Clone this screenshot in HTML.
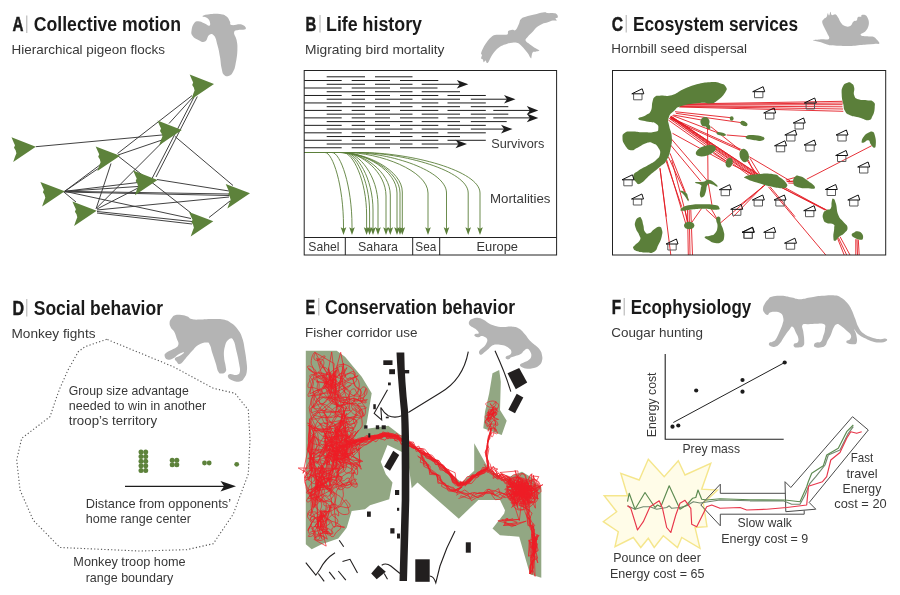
<!DOCTYPE html>
<html><head><meta charset="utf-8"><title>Animal tracking figure</title>
<style>
html,body{margin:0;padding:0;background:#fff;}
svg{display:block;will-change:transform;font-family:"Liberation Sans",Arial,sans-serif;}
</style></head><body>
<svg width="900" height="595" viewBox="0 0 900 595">
<rect width="900" height="595" fill="#ffffff"/>
<text x="12.5" y="31" font-size="19.5" textLength="11" lengthAdjust="spacingAndGlyphs" font-weight="bold" fill="#1a1a1a" stroke="#1a1a1a" stroke-width="0.45">A</text>
<line x1="26.8" y1="15.5" x2="26.8" y2="33" stroke="#999" stroke-width="0.8"/>
<text x="33.75" y="31" font-size="19.5" textLength="147.2" lengthAdjust="spacingAndGlyphs" font-weight="bold" fill="#1a1a1a">Collective motion</text>
<text x="11.5" y="54" font-size="13.3" textLength="153.5" lengthAdjust="spacingAndGlyphs" fill="#383838">Hierarchical pigeon flocks</text>
<text x="305.5" y="30.5" font-size="19.5" textLength="10.8" lengthAdjust="spacingAndGlyphs" font-weight="bold" fill="#1a1a1a" stroke="#1a1a1a" stroke-width="0.45">B</text>
<line x1="320" y1="15.0" x2="320" y2="32.5" stroke="#999" stroke-width="0.8"/>
<text x="326" y="30.5" font-size="19.5" textLength="96" lengthAdjust="spacingAndGlyphs" font-weight="bold" fill="#1a1a1a">Life history</text>
<text x="305" y="53.7" font-size="13.3" textLength="139.5" lengthAdjust="spacingAndGlyphs" fill="#383838">Migrating bird mortality</text>
<text x="611.75" y="30.5" font-size="19.5" textLength="11.3" lengthAdjust="spacingAndGlyphs" font-weight="bold" fill="#1a1a1a" stroke="#1a1a1a" stroke-width="0.45">C</text>
<line x1="626.2" y1="15.0" x2="626.2" y2="32.5" stroke="#999" stroke-width="0.8"/>
<text x="633" y="30.5" font-size="19.5" textLength="165" lengthAdjust="spacingAndGlyphs" font-weight="bold" fill="#1a1a1a">Ecosystem services</text>
<text x="611.25" y="52.7" font-size="13.3" textLength="135.8" lengthAdjust="spacingAndGlyphs" fill="#383838">Hornbill seed dispersal</text>
<text x="12.5" y="314.5" font-size="19.5" textLength="11.6" lengthAdjust="spacingAndGlyphs" font-weight="bold" fill="#1a1a1a" stroke="#1a1a1a" stroke-width="0.45">D</text>
<line x1="26.8" y1="299.0" x2="26.8" y2="316.5" stroke="#999" stroke-width="0.8"/>
<text x="33.75" y="314.5" font-size="19.5" textLength="129.2" lengthAdjust="spacingAndGlyphs" font-weight="bold" fill="#1a1a1a">Social behavior</text>
<text x="11.5" y="337.5" font-size="13.3" textLength="84.0" lengthAdjust="spacingAndGlyphs" fill="#383838">Monkey fights</text>
<text x="305.5" y="313.5" font-size="19.5" textLength="9.6" lengthAdjust="spacingAndGlyphs" font-weight="bold" fill="#1a1a1a" stroke="#1a1a1a" stroke-width="0.45">E</text>
<line x1="318.8" y1="298.0" x2="318.8" y2="315.5" stroke="#999" stroke-width="0.8"/>
<text x="325" y="313.5" font-size="19.5" textLength="190" lengthAdjust="spacingAndGlyphs" font-weight="bold" fill="#1a1a1a">Conservation behavior</text>
<text x="305" y="337" font-size="13.3" textLength="112.5" lengthAdjust="spacingAndGlyphs" fill="#383838">Fisher corridor use</text>
<text x="611.75" y="313.5" font-size="19.5" textLength="9.4" lengthAdjust="spacingAndGlyphs" font-weight="bold" fill="#1a1a1a" stroke="#1a1a1a" stroke-width="0.45">F</text>
<line x1="624.2" y1="298.0" x2="624.2" y2="315.5" stroke="#999" stroke-width="0.8"/>
<text x="630.75" y="313.5" font-size="19.5" textLength="120.5" lengthAdjust="spacingAndGlyphs" font-weight="bold" fill="#1a1a1a">Ecophysiology</text>
<text x="611.25" y="336.5" font-size="13.3" textLength="91.8" lengthAdjust="spacingAndGlyphs" fill="#383838">Cougar hunting</text>
<g stroke="#383838" stroke-width="0.95" fill="none">
<line x1="35.8" y1="146.7" x2="162" y2="135"/>
<line x1="64.7" y1="191.3" x2="100.5" y2="164.5"/>
<line x1="64.7" y1="191.3" x2="99" y2="168"/>
<line x1="117.5" y1="153.5" x2="192" y2="95.6"/>
<line x1="169" y1="123.5" x2="193.5" y2="96.5"/>
<line x1="118" y1="155" x2="162" y2="140"/>
<line x1="64.7" y1="191.3" x2="138" y2="182.5"/>
<line x1="64.7" y1="191.3" x2="138" y2="186.5"/>
<line x1="64.7" y1="191.3" x2="229" y2="194"/>
<line x1="64.7" y1="192" x2="229" y2="195.5"/>
<line x1="64.7" y1="191.3" x2="191" y2="218.5"/>
<line x1="63" y1="191.3" x2="76" y2="202"/>
<line x1="96" y1="209" x2="111" y2="163.5"/>
<line x1="96.7" y1="208" x2="162" y2="142.5"/>
<line x1="97" y1="209" x2="138" y2="188"/>
<line x1="97" y1="210" x2="229" y2="197"/>
<line x1="97" y1="211.5" x2="192" y2="221.5"/>
<line x1="97" y1="213" x2="192" y2="224"/>
<line x1="118" y1="156" x2="191" y2="213"/>
<line x1="157" y1="179.5" x2="229" y2="191"/>
<line x1="194.3" y1="96.5" x2="152.3" y2="178"/>
<line x1="197.3" y1="96.5" x2="156" y2="177"/>
<line x1="175" y1="136.5" x2="233" y2="185.5"/>
<line x1="209" y1="217.5" x2="230" y2="201"/>
</g>
<g fill="#5d823b">
<path d="M0,0 L-24.3,-9.4 L-22,-4 L-20.8,-1.5 L-21.8,1 L-20.2,3.5 L-19.4,6.5 L-20.8,10 L-22.6,15.2 Z" transform="translate(214 84)"/>
<path d="M0,0 L-24.3,-9.4 L-22,-4 L-20.8,-1.5 L-21.8,1 L-20.2,3.5 L-19.4,6.5 L-20.8,10 L-22.6,15.2 Z" transform="translate(181.8 130)"/>
<path d="M0,0 L-24.3,-9.4 L-22,-4 L-20.8,-1.5 L-21.8,1 L-20.2,3.5 L-19.4,6.5 L-20.8,10 L-22.6,15.2 Z" transform="translate(35.8 146.7)"/>
<path d="M0,0 L-24.3,-9.4 L-22,-4 L-20.8,-1.5 L-21.8,1 L-20.2,3.5 L-19.4,6.5 L-20.8,10 L-22.6,15.2 Z" transform="translate(120 155.8)"/>
<path d="M0,0 L-24.3,-9.4 L-22,-4 L-20.8,-1.5 L-21.8,1 L-20.2,3.5 L-19.4,6.5 L-20.8,10 L-22.6,15.2 Z" transform="translate(157.5 180)"/>
<path d="M0,0 L-24.3,-9.4 L-22,-4 L-20.8,-1.5 L-21.8,1 L-20.2,3.5 L-19.4,6.5 L-20.8,10 L-22.6,15.2 Z" transform="translate(64.7 191.3)"/>
<path d="M0,0 L-24.3,-9.4 L-22,-4 L-20.8,-1.5 L-21.8,1 L-20.2,3.5 L-19.4,6.5 L-20.8,10 L-22.6,15.2 Z" transform="translate(96.7 210.8)"/>
<path d="M0,0 L-24.3,-9.4 L-22,-4 L-20.8,-1.5 L-21.8,1 L-20.2,3.5 L-19.4,6.5 L-20.8,10 L-22.6,15.2 Z" transform="translate(250 193.3)"/>
<path d="M0,0 L-24.3,-9.4 L-22,-4 L-20.8,-1.5 L-21.8,1 L-20.2,3.5 L-19.4,6.5 L-20.8,10 L-22.6,15.2 Z" transform="translate(213.3 221.3)"/>
</g>
<g stroke="#1c1c1c" stroke-width="1" fill="none">
<line x1="326.7" y1="76.8" x2="365" y2="76.8"/>
<line x1="375" y1="76.8" x2="412.5" y2="76.8"/>
<line x1="304.2" y1="80.53" x2="341.7" y2="80.53"/>
<line x1="351.7" y1="80.53" x2="390" y2="80.53"/>
<line x1="400" y1="80.53" x2="438.3" y2="80.53"/>
<line x1="326.7" y1="84.27" x2="365" y2="84.27"/>
<line x1="375" y1="84.27" x2="412.5" y2="84.27"/>
<line x1="421.7" y1="84.27" x2="464.3" y2="84.27"/>
<line x1="304.2" y1="88.0" x2="341.7" y2="88.0"/>
<line x1="351.7" y1="88.0" x2="390" y2="88.0"/>
<line x1="400" y1="88.0" x2="437.5" y2="88.0"/>
<line x1="326.7" y1="91.74" x2="365" y2="91.74"/>
<line x1="375" y1="91.74" x2="412.5" y2="91.74"/>
<line x1="421.7" y1="91.74" x2="460" y2="91.74"/>
<line x1="304.2" y1="95.47" x2="341.7" y2="95.47"/>
<line x1="351.7" y1="95.47" x2="390" y2="95.47"/>
<line x1="400" y1="95.47" x2="438.3" y2="95.47"/>
<line x1="447.5" y1="95.47" x2="485.8" y2="95.47"/>
<line x1="326.7" y1="99.21" x2="365" y2="99.21"/>
<line x1="375" y1="99.21" x2="412.5" y2="99.21"/>
<line x1="421.7" y1="99.21" x2="460" y2="99.21"/>
<line x1="470.8" y1="99.21" x2="511.5" y2="99.21"/>
<line x1="304.2" y1="102.94" x2="341.7" y2="102.94"/>
<line x1="351.7" y1="102.94" x2="390" y2="102.94"/>
<line x1="400" y1="102.94" x2="438.3" y2="102.94"/>
<line x1="447.5" y1="102.94" x2="485.8" y2="102.94"/>
<line x1="326.7" y1="106.68" x2="365" y2="106.68"/>
<line x1="375" y1="106.68" x2="412.5" y2="106.68"/>
<line x1="421.7" y1="106.68" x2="460" y2="106.68"/>
<line x1="470.8" y1="106.68" x2="508.3" y2="106.68"/>
<line x1="304.2" y1="110.41" x2="341.7" y2="110.41"/>
<line x1="351.7" y1="110.41" x2="390" y2="110.41"/>
<line x1="400" y1="110.41" x2="438.3" y2="110.41"/>
<line x1="447.5" y1="110.41" x2="485.8" y2="110.41"/>
<line x1="493.3" y1="110.41" x2="534.3" y2="110.41"/>
<line x1="326.7" y1="114.15" x2="365" y2="114.15"/>
<line x1="375" y1="114.15" x2="412.5" y2="114.15"/>
<line x1="421.7" y1="114.15" x2="460" y2="114.15"/>
<line x1="470.8" y1="114.15" x2="508.3" y2="114.15"/>
<line x1="304.2" y1="117.88" x2="341.7" y2="117.88"/>
<line x1="351.7" y1="117.88" x2="390" y2="117.88"/>
<line x1="400" y1="117.88" x2="438.3" y2="117.88"/>
<line x1="447.5" y1="117.88" x2="485.8" y2="117.88"/>
<line x1="493.3" y1="117.88" x2="534.3" y2="117.88"/>
<line x1="326.7" y1="121.62" x2="365" y2="121.62"/>
<line x1="375" y1="121.62" x2="412.5" y2="121.62"/>
<line x1="421.7" y1="121.62" x2="460" y2="121.62"/>
<line x1="470.8" y1="121.62" x2="506.7" y2="121.62"/>
<line x1="304.2" y1="125.35" x2="341.7" y2="125.35"/>
<line x1="351.7" y1="125.35" x2="390" y2="125.35"/>
<line x1="400" y1="125.35" x2="438.3" y2="125.35"/>
<line x1="447.5" y1="125.35" x2="485.8" y2="125.35"/>
<line x1="326.7" y1="129.09" x2="365" y2="129.09"/>
<line x1="375" y1="129.09" x2="412.5" y2="129.09"/>
<line x1="421.7" y1="129.09" x2="460" y2="129.09"/>
<line x1="470.8" y1="129.09" x2="508.5" y2="129.09"/>
<line x1="304.2" y1="132.82" x2="341.7" y2="132.82"/>
<line x1="351.7" y1="132.82" x2="390" y2="132.82"/>
<line x1="400" y1="132.82" x2="438.3" y2="132.82"/>
<line x1="447.5" y1="132.82" x2="485.8" y2="132.82"/>
<line x1="326.7" y1="136.56" x2="365" y2="136.56"/>
<line x1="375" y1="136.56" x2="412.5" y2="136.56"/>
<line x1="421.7" y1="136.56" x2="460" y2="136.56"/>
<line x1="304.2" y1="140.29" x2="341.7" y2="140.29"/>
<line x1="351.7" y1="140.29" x2="390" y2="140.29"/>
<line x1="400" y1="140.29" x2="438.3" y2="140.29"/>
<line x1="447.5" y1="140.29" x2="485.8" y2="140.29"/>
<line x1="326.7" y1="144.03" x2="365" y2="144.03"/>
<line x1="375" y1="144.03" x2="412.5" y2="144.03"/>
<line x1="421.7" y1="144.03" x2="463" y2="144.03"/>
<line x1="304.2" y1="147.76" x2="341.7" y2="147.76"/>
<line x1="351.7" y1="147.76" x2="390" y2="147.76"/>
<line x1="400" y1="147.76" x2="438.3" y2="147.76"/>
</g>
<g fill="#1c1c1c">
<path d="M468.3,84.27 l-11.5,-4.3 l3,4.3 l-3,4.3 z"/>
<path d="M515.5,99.21 l-11.5,-4.3 l3,4.3 l-3,4.3 z"/>
<path d="M538.3,110.41 l-11.5,-4.3 l3,4.3 l-3,4.3 z"/>
<path d="M538.3,117.88 l-11.5,-4.3 l3,4.3 l-3,4.3 z"/>
<path d="M512.5,129.09 l-11.5,-4.3 l3,4.3 l-3,4.3 z"/>
<path d="M467,144.03 l-11.5,-4.3 l3,4.3 l-3,4.3 z"/>
</g>
<g stroke="#5b7f3a" stroke-width="0.9" fill="none">
<path d="M304.2,152.5 H325 C332.8,152.5 343.5,185.6 343.5,226 V229"/>
<path d="M304.2,152.5 H332 C340.4,152.5 352,185.6 352,226 V229"/>
<path d="M304.2,152.5 H343 C352.9,152.5 366.6,180.6 366.6,215 V229"/>
<path d="M304.2,152.5 H344 C354.8,152.5 369.6,179.3 369.6,212 V229"/>
<path d="M304.2,152.5 H345 C356.8,152.5 373,178.4 373,210 V229"/>
<path d="M304.2,152.5 H345 C358.9,152.5 378,176.1 378,205 V229"/>
<path d="M304.2,152.5 H343 C361.1,152.5 386,172.1 386,196 V229"/>
<path d="M304.2,152.5 H342 C362.3,152.5 390.3,171.6 390.3,195 V229"/>
<path d="M304.2,152.5 H341 C364.5,152.5 397,170.7 397,193 V229"/>
<path d="M304.2,152.5 H340 C365.2,152.5 400,170.7 400,193 V229"/>
<path d="M304.2,152.5 H340 C366.2,152.5 402.3,170.3 402.3,192 V229"/>
<path d="M304.2,152.5 H345 C379.9,152.5 428,170.7 428,193 V229"/>
<path d="M304.2,152.5 H350 C390.5,152.5 446.5,170.7 446.5,193 V229"/>
<path d="M304.2,152.5 H356 C403.1,152.5 468.2,170.7 468.2,193 V229"/>
<path d="M304.2,152.5 H360 C410.4,152.5 480,170.7 480,193 V229"/>
</g>
<g fill="#5b7f3a">
<path d="M343.5,235 l-2.8,-7.8 l2.8,1.6 l2.8,-1.6 z"/>
<path d="M352,235 l-2.8,-7.8 l2.8,1.6 l2.8,-1.6 z"/>
<path d="M366.6,235 l-2.8,-7.8 l2.8,1.6 l2.8,-1.6 z"/>
<path d="M369.6,235 l-2.8,-7.8 l2.8,1.6 l2.8,-1.6 z"/>
<path d="M373,235 l-2.8,-7.8 l2.8,1.6 l2.8,-1.6 z"/>
<path d="M378,235 l-2.8,-7.8 l2.8,1.6 l2.8,-1.6 z"/>
<path d="M386,235 l-2.8,-7.8 l2.8,1.6 l2.8,-1.6 z"/>
<path d="M390.3,235 l-2.8,-7.8 l2.8,1.6 l2.8,-1.6 z"/>
<path d="M397,235 l-2.8,-7.8 l2.8,1.6 l2.8,-1.6 z"/>
<path d="M400,235 l-2.8,-7.8 l2.8,1.6 l2.8,-1.6 z"/>
<path d="M402.3,235 l-2.8,-7.8 l2.8,1.6 l2.8,-1.6 z"/>
<path d="M428,235 l-2.8,-7.8 l2.8,1.6 l2.8,-1.6 z"/>
<path d="M446.5,235 l-2.8,-7.8 l2.8,1.6 l2.8,-1.6 z"/>
<path d="M468.2,235 l-2.8,-7.8 l2.8,1.6 l2.8,-1.6 z"/>
<path d="M480,235 l-2.8,-7.8 l2.8,1.6 l2.8,-1.6 z"/>
</g>
<rect x="304.2" y="70.5" width="252.4" height="184.5" fill="none" stroke="#222" stroke-width="1"/>
<path d="M304.2,237.5 H556.6 M345.3,237.5 V255 M412.7,237.5 V255 M439.7,237.5 V255" stroke="#222" stroke-width="1" fill="none"/>
<text x="308.3" y="250.8" font-size="12.8" textLength="31.2" lengthAdjust="spacingAndGlyphs" fill="#383838">Sahel</text>
<text x="358" y="250.8" font-size="12.8" textLength="40" lengthAdjust="spacingAndGlyphs" fill="#383838">Sahara</text>
<text x="415.3" y="250.8" font-size="12.8" textLength="21" lengthAdjust="spacingAndGlyphs" fill="#383838">Sea</text>
<text x="476.5" y="250.8" font-size="12.8" textLength="41.5" lengthAdjust="spacingAndGlyphs" fill="#383838">Europe</text>
<text x="491.3" y="147.7" font-size="13.3" textLength="53" lengthAdjust="spacingAndGlyphs" fill="#383838">Survivors</text>
<text x="490" y="203" font-size="13.3" textLength="60.5" lengthAdjust="spacingAndGlyphs" fill="#383838">Mortalities</text>
<g>
<g stroke="#e31b23" stroke-width="0.9" fill="none">
<line x1="681.7" y1="104.0" x2="842.5" y2="101.3"/>
<line x1="680.8" y1="105.0" x2="842.5" y2="104.7"/>
<line x1="680.0" y1="106.0" x2="842.5" y2="106.8"/>
<line x1="679.2" y1="107.0" x2="843.3" y2="111.3"/>
<line x1="681.7" y1="104.5" x2="843.0" y2="103.0"/>
<line x1="680.0" y1="106.5" x2="843.0" y2="109.0"/>
<line x1="675.0" y1="111.7" x2="731.7" y2="117.8"/>
<line x1="675.8" y1="113.3" x2="742.5" y2="122.8"/>
<line x1="673.3" y1="115.0" x2="701.7" y2="120.0"/>
<line x1="672.5" y1="115.5" x2="718.3" y2="133.0"/>
<line x1="726.7" y1="135.0" x2="747.5" y2="136.7"/>
<line x1="670.8" y1="116.3" x2="756.7" y2="174.7"/>
<line x1="671.2" y1="116.2" x2="758.7" y2="175.0"/>
<line x1="670.5" y1="116.7" x2="755.0" y2="174.8"/>
<line x1="670.3" y1="117.2" x2="753.3" y2="175.2"/>
<line x1="671.0" y1="116.5" x2="760.3" y2="175.5"/>
<line x1="670.2" y1="117.5" x2="752.0" y2="175.5"/>
<line x1="669.3" y1="118.3" x2="740.0" y2="150.3"/>
<line x1="670.0" y1="117.3" x2="741.7" y2="149.7"/>
<line x1="668.3" y1="120.0" x2="725.8" y2="160.8"/>
<line x1="672.5" y1="133.3" x2="726.7" y2="163.0"/>
<line x1="670.8" y1="138.3" x2="706.7" y2="180.0"/>
<line x1="669.2" y1="143.3" x2="700.8" y2="181.3"/>
<line x1="668.3" y1="156.7" x2="688.3" y2="200.0"/>
<line x1="665.8" y1="160.0" x2="681.7" y2="206.7"/>
<line x1="660.0" y1="168.3" x2="666.3" y2="216.7"/>
<line x1="670.0" y1="153.3" x2="685.3" y2="192.0"/>
<line x1="707.5" y1="126.7" x2="708.0" y2="180.0"/>
<line x1="708.3" y1="183.3" x2="712.0" y2="205.3"/>
<line x1="710.8" y1="126.7" x2="740.0" y2="150.0"/>
<line x1="713.3" y1="153.3" x2="726.7" y2="161.7"/>
<line x1="732.5" y1="165.0" x2="755.0" y2="175.3"/>
<line x1="748.3" y1="160.0" x2="755.0" y2="174.7"/>
<line x1="750.0" y1="158.3" x2="760.3" y2="175.3"/>
<line x1="749.2" y1="156.7" x2="790.0" y2="180.8"/>
<line x1="746.7" y1="160.0" x2="757.5" y2="175.0"/>
<line x1="763.3" y1="185.8" x2="733.3" y2="216.7"/>
<line x1="770.0" y1="186.7" x2="795.0" y2="216.7"/>
<line x1="669.7" y1="118.7" x2="750.0" y2="176.0"/>
<line x1="660.0" y1="168.3" x2="670.8" y2="255.0"/>
<line x1="666.7" y1="160.0" x2="686.7" y2="226.7"/>
<line x1="671.7" y1="160.0" x2="688.3" y2="223.3"/>
<line x1="687.5" y1="210.0" x2="688.3" y2="255.0"/>
<line x1="689.2" y1="210.0" x2="690.0" y2="255.0"/>
<line x1="690.8" y1="210.0" x2="692.5" y2="255.0"/>
<line x1="701.7" y1="208.3" x2="691.7" y2="222.5"/>
<line x1="705.8" y1="209.2" x2="717.5" y2="220.0"/>
<line x1="685.0" y1="210.0" x2="687.5" y2="223.3"/>
<line x1="710.0" y1="206.7" x2="716.7" y2="218.3"/>
<line x1="720.0" y1="223.3" x2="765.0" y2="185.0"/>
<line x1="756.7" y1="175.0" x2="826.7" y2="210.0"/>
<line x1="763.3" y1="175.8" x2="827.5" y2="210.8"/>
<line x1="773.3" y1="183.3" x2="825.0" y2="210.0"/>
<line x1="768.3" y1="186.7" x2="825.8" y2="255.0"/>
<line x1="740.0" y1="205.0" x2="765.0" y2="185.0"/>
<line x1="786.7" y1="181.7" x2="795.0" y2="180.8"/>
<line x1="785.8" y1="180.0" x2="795.0" y2="177.5"/>
<line x1="788.3" y1="183.0" x2="795.0" y2="183.3"/>
<line x1="786.7" y1="181.0" x2="795.0" y2="182.0"/>
<line x1="806.7" y1="179.2" x2="871.7" y2="145.7"/>
<line x1="838.3" y1="237.5" x2="846.7" y2="255.0"/>
<line x1="840.0" y1="236.7" x2="850.0" y2="255.0"/>
<line x1="837.5" y1="238.3" x2="844.2" y2="255.0"/>
<line x1="855.8" y1="239.2" x2="855.8" y2="255.0"/>
<line x1="858.3" y1="239.7" x2="859.2" y2="255.0"/>
<line x1="857.0" y1="239.3" x2="857.5" y2="255.0"/>
</g>
<g fill="#5b7f3a">
<path d="M710.0,82.2 C716.2,81.9 715.8,81.9 720.0,83.2 C724.2,84.4 724.5,84.3 725.8,86.8 C727.2,89.4 727.4,88.9 725.0,92.7 C722.6,96.4 720.7,98.1 716.7,101.0 C712.7,103.9 714.4,103.0 710.0,103.5 C705.6,104.0 707.6,102.3 700.0,103.0 C692.4,103.7 688.6,104.0 681.7,106.0 C674.8,108.0 677.6,107.6 674.2,110.7 C670.7,113.8 670.0,113.6 668.7,117.7 C667.3,121.8 668.4,121.1 669.2,126.0 C670.0,130.9 671.2,130.2 671.7,136.0 C672.1,141.8 672.2,141.3 670.8,147.7 C669.5,154.1 669.6,154.9 666.7,160.0 C663.8,165.1 664.4,162.7 660.0,166.7 C655.6,170.7 655.1,170.6 650.0,175.0 C644.9,179.4 644.6,181.5 640.8,183.3 C637.1,185.2 637.8,183.8 635.8,181.8 C633.8,179.8 632.7,178.8 633.3,175.8 C634.0,172.9 634.3,173.7 638.3,170.8 C642.3,167.9 643.7,167.8 648.3,165.0 C653.0,162.2 652.7,163.0 655.8,160.2 C658.9,157.3 659.3,157.7 660.0,154.3 C660.7,151.0 660.1,150.6 658.3,147.7 C656.6,144.8 656.4,144.7 653.3,143.5 C650.2,142.3 650.9,141.9 646.7,143.0 C642.4,144.1 641.7,145.8 637.5,147.7 C633.3,149.6 634.2,150.8 630.8,150.2 C627.5,149.5 627.2,148.5 625.0,145.2 C622.8,141.8 622.5,141.0 622.5,137.7 C622.5,134.3 622.6,134.3 625.0,132.7 C627.4,131.0 626.8,131.6 631.7,131.5 C636.6,131.4 637.1,132.2 643.3,132.3 C649.6,132.4 651.0,132.9 655.0,131.8 C659.0,130.8 658.1,130.7 658.3,128.5 C658.6,126.3 658.5,125.3 655.8,123.5 C653.2,121.7 653.0,123.0 648.3,121.8 C643.7,120.6 639.0,120.8 638.3,119.0 C637.7,117.2 642.5,117.3 645.8,115.2 C649.2,113.0 649.1,114.6 650.8,111.0 C652.6,107.4 651.4,105.6 652.5,101.8 C653.6,98.1 653.0,98.5 655.0,96.8 C657.0,95.2 655.6,96.1 660.0,95.7 C664.4,95.2 665.4,96.9 671.7,95.2 C677.9,93.5 676.7,92.2 683.3,89.3 C690.0,86.4 689.6,86.2 696.7,84.3 C703.8,82.4 703.8,82.5 710.0,82.2Z"/>
<path d="M639.2,217.2 C637.5,217.8 636.2,218.7 635.3,221.7 C634.4,224.6 634.8,224.8 635.8,228.3 C636.9,231.9 638.1,231.9 639.2,235.0 C640.3,238.1 641.1,237.3 640.0,240.0 C638.9,242.7 636.8,242.8 635.0,245.0 C633.2,247.2 632.7,246.6 633.3,248.3 C634.0,250.0 634.2,250.2 637.5,251.3 C640.8,252.4 641.4,252.4 645.8,252.5 C650.3,252.6 650.8,253.7 654.2,251.7 C657.5,249.7 656.3,249.0 658.3,245.0 C660.3,241.0 660.7,240.7 661.7,236.7 C662.6,232.7 662.7,232.7 662.0,230.0 C661.3,227.3 661.3,226.9 659.2,226.7 C657.1,226.4 656.8,227.4 654.2,229.2 C651.5,230.9 651.6,232.7 649.2,233.3 C646.7,234.0 646.6,233.9 645.0,231.7 C643.4,229.4 644.2,228.3 643.3,225.0 C642.4,221.7 642.8,221.3 641.7,219.2 C640.6,217.1 640.9,216.5 639.2,217.2Z"/>
<path d="M680.0,190.8 C680.7,190.4 683.7,190.7 685.8,192.5 C688.0,194.3 687.3,195.1 688.0,197.5 C688.7,199.9 688.9,201.3 688.3,201.3 C687.8,201.3 687.2,199.4 685.8,197.5 C684.5,195.6 684.9,195.9 683.3,194.2 C681.8,192.4 679.3,191.3 680.0,190.8Z"/>
<path d="M695.0,182.5 C695.7,181.6 699.8,182.4 703.3,181.7 C706.9,180.9 705.4,179.4 708.3,179.7 C711.2,179.9 711.7,180.6 714.2,182.5 C716.6,184.4 718.2,186.2 717.5,186.7 C716.8,187.1 714.3,184.6 711.7,184.2 C709.0,183.7 709.1,183.0 707.5,185.0 C705.9,187.0 706.9,188.6 705.8,191.7 C704.7,194.8 704.9,195.6 703.3,196.7 C701.8,197.8 700.7,198.1 700.0,195.8 C699.3,193.6 700.6,191.2 700.8,188.3 C701.1,185.4 702.4,186.6 700.8,185.0 C699.3,183.4 694.3,183.4 695.0,182.5Z"/>
<path d="M680.8,209.2 C682.2,207.7 682.3,206.7 688.3,205.3 C694.3,204.0 696.2,204.3 703.3,204.2 C710.4,204.1 710.8,204.1 715.0,205.0 C719.2,205.9 718.7,206.3 719.2,207.5 C719.6,208.7 720.9,209.4 716.7,209.7 C712.4,210.0 710.4,208.7 703.3,208.7 C696.2,208.7 695.3,209.1 690.0,209.7 C684.7,210.2 685.8,211.0 683.3,210.8 C680.9,210.7 679.5,210.6 680.8,209.2Z"/>
<path d="M716.7,217.5 C717.6,216.6 718.9,215.9 720.0,217.5 C721.1,219.1 719.9,220.0 720.8,223.3 C721.7,226.7 722.4,226.4 723.3,230.0 C724.2,233.6 724.6,233.6 724.2,236.7 C723.7,239.8 724.1,240.0 721.7,241.7 C719.2,243.4 718.6,243.4 715.0,243.0 C711.4,242.6 711.1,241.6 708.3,240.0 C705.6,238.4 704.2,238.1 704.7,237.0 C705.1,235.9 707.2,236.8 710.0,235.8 C712.8,234.9 713.0,235.8 715.0,233.3 C717.0,230.9 717.1,230.0 717.5,226.7 C717.9,223.3 716.6,223.3 716.3,220.8 C716.1,218.4 715.7,218.4 716.7,217.5Z"/>
<path d="M847.5,82.7 C845.2,83.4 844.6,83.2 843.0,86.3 C841.4,89.4 841.6,89.5 841.7,94.3 C841.8,99.1 842.4,99.9 843.3,104.3 C844.2,108.8 843.2,108.1 845.0,111.0 C846.8,113.9 846.0,113.4 850.0,115.2 C854.0,116.9 855.1,116.3 860.0,117.7 C864.9,119.0 865.0,120.6 868.3,120.2 C871.7,119.7 870.8,119.3 872.5,116.0 C874.2,112.7 874.4,111.4 874.7,107.7 C874.9,103.9 875.5,103.8 873.3,101.8 C871.2,99.8 870.7,100.8 866.7,100.2 C862.7,99.5 861.7,100.7 858.3,99.3 C855.0,98.0 855.3,98.3 854.2,95.2 C853.1,92.1 854.8,90.8 854.2,87.7 C853.5,84.6 853.4,84.8 851.7,83.5 C849.9,82.2 849.8,81.9 847.5,82.7Z"/>
<path d="M872.5,131.8 C874.3,132.7 874.1,132.7 875.0,136.0 C875.9,139.3 876.1,141.2 875.8,144.3 C875.6,147.4 875.5,147.7 874.2,147.7 C872.8,147.7 872.4,146.3 870.8,144.3 C869.3,142.3 870.3,140.6 868.3,140.2 C866.3,139.7 865.1,142.4 863.3,142.7 C861.6,142.9 861.4,142.8 861.7,141.0 C861.9,139.2 862.4,138.2 864.2,136.0 C865.9,133.8 866.1,133.8 868.3,132.7 C870.6,131.6 870.7,130.9 872.5,131.8Z"/>
<path d="M746.7,136.0 C748.7,135.0 750.3,134.7 755.0,135.2 C759.7,135.6 762.8,136.1 764.2,137.7 C765.5,139.2 762.9,140.6 760.0,141.0 C757.1,141.4 756.7,139.9 753.3,139.3 C750.0,138.8 749.3,139.9 747.5,139.0 C745.7,138.1 744.7,137.0 746.7,136.0Z"/>
<path d="M745.0,176.7 C747.4,175.3 749.1,174.8 756.7,174.2 C764.2,173.5 767.1,173.3 773.3,174.2 C779.6,175.1 776.7,175.3 780.0,177.5 C783.3,179.7 784.1,180.1 785.8,182.5 C787.6,184.9 787.8,185.1 786.7,186.7 C785.6,188.2 786.1,188.4 781.7,188.3 C777.2,188.2 776.7,187.9 770.0,186.3 C763.3,184.8 762.7,184.4 756.7,182.5 C750.7,180.6 750.6,180.7 747.5,179.2 C744.4,177.6 742.6,178.0 745.0,176.7Z"/>
<path d="M795.0,176.7 C796.8,175.0 796.9,175.4 800.0,176.3 C803.1,177.2 802.7,177.0 806.7,180.0 C810.7,183.0 815.0,185.3 815.0,187.5 C815.0,189.7 811.6,188.6 806.7,188.3 C801.8,188.1 800.2,188.2 796.7,186.7 C793.1,185.1 793.8,185.2 793.3,182.5 C792.9,179.8 793.2,178.3 795.0,176.7Z"/>
<path d="M833.3,198.7 C834.4,199.1 834.5,199.0 835.8,203.3 C837.2,207.7 836.3,210.1 838.3,215.0 C840.3,219.9 840.9,218.3 843.3,221.7 C845.8,225.0 847.3,224.4 847.5,227.5 C847.7,230.6 846.4,230.9 844.2,233.3 C841.9,235.8 841.6,234.7 839.2,236.7 C836.7,238.7 836.6,240.8 835.0,240.8 C833.4,240.8 833.6,240.0 833.3,236.7 C833.1,233.3 834.2,231.7 834.2,228.3 C834.2,225.0 835.3,225.6 833.3,224.2 C831.3,222.7 829.3,224.3 826.7,223.0 C824.0,221.7 824.2,221.7 823.3,219.2 C822.4,216.6 822.4,215.8 823.3,213.3 C824.2,210.9 824.7,211.3 826.7,210.0 C828.7,208.7 829.5,210.6 830.8,208.3 C832.2,206.1 831.0,204.2 831.7,201.7 C832.3,199.1 832.2,198.2 833.3,198.7Z"/>
<path d="M857.5,231.3 C859.5,231.6 860.2,231.5 861.7,233.3 C863.1,235.2 863.4,236.6 863.0,238.3 C862.6,240.0 862.1,239.8 860.0,239.7 C857.9,239.6 857.2,239.2 855.0,238.0 C852.8,236.8 851.9,236.5 851.7,235.0 C851.4,233.5 852.6,233.5 854.2,232.5 C855.7,231.5 855.5,231.1 857.5,231.3Z"/>
<ellipse cx="705.0" cy="121.8" rx="4.6" ry="4.8" transform="rotate(0 705.0 121.8)"/>
<ellipse cx="708.0" cy="126.3" rx="2" ry="3.2" transform="rotate(-30 708.0 126.3)"/>
<ellipse cx="731.7" cy="118.5" rx="1.9" ry="2.2" transform="rotate(0 731.7 118.5)"/>
<ellipse cx="744.2" cy="123.5" rx="3.6" ry="2" transform="rotate(30 744.2 123.5)"/>
<ellipse cx="721.2" cy="134.0" rx="4.8" ry="1.6" transform="rotate(12 721.2 134.0)"/>
<ellipse cx="705.8" cy="150.7" rx="10.5" ry="5" transform="rotate(-18 705.8 150.7)"/>
<ellipse cx="744.2" cy="155.5" rx="4.6" ry="6.8" transform="rotate(-15 744.2 155.5)"/>
<ellipse cx="729.2" cy="162.7" rx="3.5" ry="5" transform="rotate(15 729.2 162.7)"/>
<ellipse cx="743.3" cy="123.5" rx="3.2" ry="2" transform="rotate(30 743.3 123.5)"/>
<ellipse cx="689.2" cy="225.5" rx="5.2" ry="3.8" transform="rotate(0 689.2 225.5)"/>
<ellipse cx="753.3" cy="137.7" rx="7" ry="2.3" transform="rotate(8 753.3 137.7)"/>
</g></g>
<path d="M633.6,93.8 V99.8 H642.0 V93.8" stroke="#5a5a5a" stroke-width="1" fill="none"/>
<path d="M631.8,93.8 L642.2,88.8 L643.8,93.8 Z" stroke="#111" stroke-width="1" fill="none"/>
<path d="M623.8,179.8 V185.8 H632.2 V179.8" stroke="#5a5a5a" stroke-width="1" fill="none"/>
<path d="M622.0,179.8 L632.4,174.8 L634.0,179.8 Z" stroke="#111" stroke-width="1" fill="none"/>
<path d="M633.3,199.0 V205.0 H641.7 V199.0" stroke="#5a5a5a" stroke-width="1" fill="none"/>
<path d="M631.5,199.0 L641.9,194.0 L643.5,199.0 Z" stroke="#111" stroke-width="1" fill="none"/>
<path d="M667.8,244.0 V250.0 H676.2 V244.0" stroke="#5a5a5a" stroke-width="1" fill="none"/>
<path d="M666.0,244.0 L676.4,239.0 L678.0,244.0 Z" stroke="#111" stroke-width="1" fill="none"/>
<path d="M721.1,189.7 V195.7 H729.5 V189.7" stroke="#5a5a5a" stroke-width="1" fill="none"/>
<path d="M719.3,189.7 L729.7,184.7 L731.3,189.7 Z" stroke="#111" stroke-width="1" fill="none"/>
<path d="M732.5,209.3 V215.3 H740.9 V209.3" stroke="#5a5a5a" stroke-width="1" fill="none"/>
<path d="M730.7,209.3 L741.1,204.3 L742.7,209.3 Z" stroke="#111" stroke-width="1" fill="none"/>
<path d="M744.1,232.3 V238.3 H752.5 V232.3" stroke="#5a5a5a" stroke-width="1" fill="none"/>
<path d="M742.3,232.3 L752.7,227.3 L754.3,232.3 Z" stroke="#111" stroke-width="1" fill="none"/>
<path d="M754.5,91.7 V97.7 H762.9 V91.7" stroke="#5a5a5a" stroke-width="1" fill="none"/>
<path d="M752.7,91.7 L763.1,86.7 L764.7,91.7 Z" stroke="#111" stroke-width="1" fill="none"/>
<path d="M765.5,113.0 V119.0 H773.9 V113.0" stroke="#5a5a5a" stroke-width="1" fill="none"/>
<path d="M763.7,113.0 L774.1,108.0 L775.7,113.0 Z" stroke="#111" stroke-width="1" fill="none"/>
<path d="M806.1,103.0 V109.0 H814.5 V103.0" stroke="#5a5a5a" stroke-width="1" fill="none"/>
<path d="M804.3,103.0 L814.7,98.0 L816.3,103.0 Z" stroke="#111" stroke-width="1" fill="none"/>
<path d="M795.0,123.0 V129.0 H803.4 V123.0" stroke="#5a5a5a" stroke-width="1" fill="none"/>
<path d="M793.2,123.0 L803.6,118.0 L805.2,123.0 Z" stroke="#111" stroke-width="1" fill="none"/>
<path d="M786.6,135.0 V141.0 H795.0 V135.0" stroke="#5a5a5a" stroke-width="1" fill="none"/>
<path d="M784.8,135.0 L795.2,130.0 L796.8,135.0 Z" stroke="#111" stroke-width="1" fill="none"/>
<path d="M776.3,145.8 V151.8 H784.7 V145.8" stroke="#5a5a5a" stroke-width="1" fill="none"/>
<path d="M774.5,145.8 L784.9,140.8 L786.5,145.8 Z" stroke="#111" stroke-width="1" fill="none"/>
<path d="M805.8,145.0 V151.0 H814.2 V145.0" stroke="#5a5a5a" stroke-width="1" fill="none"/>
<path d="M804.0,145.0 L814.4,140.0 L816.0,145.0 Z" stroke="#111" stroke-width="1" fill="none"/>
<path d="M837.8,135.0 V141.0 H846.2 V135.0" stroke="#5a5a5a" stroke-width="1" fill="none"/>
<path d="M836.0,135.0 L846.4,130.0 L848.0,135.0 Z" stroke="#111" stroke-width="1" fill="none"/>
<path d="M837.5,155.5 V161.5 H845.9 V155.5" stroke="#5a5a5a" stroke-width="1" fill="none"/>
<path d="M835.7,155.5 L846.1,150.5 L847.7,155.5 Z" stroke="#111" stroke-width="1" fill="none"/>
<path d="M859.5,167.0 V173.0 H867.9 V167.0" stroke="#5a5a5a" stroke-width="1" fill="none"/>
<path d="M857.7,167.0 L868.1,162.0 L869.7,167.0 Z" stroke="#111" stroke-width="1" fill="none"/>
<path d="M827.1,189.5 V195.5 H835.5 V189.5" stroke="#5a5a5a" stroke-width="1" fill="none"/>
<path d="M825.3,189.5 L835.7,184.5 L837.3,189.5 Z" stroke="#111" stroke-width="1" fill="none"/>
<path d="M849.6,200.0 V206.0 H858.0 V200.0" stroke="#5a5a5a" stroke-width="1" fill="none"/>
<path d="M847.8,200.0 L858.2,195.0 L859.8,200.0 Z" stroke="#111" stroke-width="1" fill="none"/>
<path d="M754.1,200.0 V206.0 H762.5 V200.0" stroke="#5a5a5a" stroke-width="1" fill="none"/>
<path d="M752.3,200.0 L762.7,195.0 L764.3,200.0 Z" stroke="#111" stroke-width="1" fill="none"/>
<path d="M775.8,200.0 V206.0 H784.2 V200.0" stroke="#5a5a5a" stroke-width="1" fill="none"/>
<path d="M774.0,200.0 L784.4,195.0 L786.0,200.0 Z" stroke="#111" stroke-width="1" fill="none"/>
<path d="M805.5,210.7 V216.7 H813.9 V210.7" stroke="#5a5a5a" stroke-width="1" fill="none"/>
<path d="M803.7,210.7 L814.1,205.7 L815.7,210.7 Z" stroke="#111" stroke-width="1" fill="none"/>
<path d="M743.8,232.3 V238.3 H752.2 V232.3" stroke="#5a5a5a" stroke-width="1" fill="none"/>
<path d="M742.0,232.3 L752.4,227.3 L754.0,232.3 Z" stroke="#111" stroke-width="1" fill="none"/>
<path d="M765.5,232.3 V238.3 H773.9 V232.3" stroke="#5a5a5a" stroke-width="1" fill="none"/>
<path d="M763.7,232.3 L774.1,227.3 L775.7,232.3 Z" stroke="#111" stroke-width="1" fill="none"/>
<path d="M786.3,243.2 V249.2 H794.7 V243.2" stroke="#5a5a5a" stroke-width="1" fill="none"/>
<path d="M784.5,243.2 L794.9,238.2 L796.5,243.2 Z" stroke="#111" stroke-width="1" fill="none"/>
<rect x="612.5" y="70.5" width="273.2" height="184.5" fill="none" stroke="#222" stroke-width="1"/>
<g fill="#b4b4b4"><path d="M202.5,16.1 C203.2,15.2 206.7,14.6 210.8,14.1 C214.9,13.7 216.2,13.6 219.9,14.1 C223.6,14.7 224.3,14.9 226.6,16.6 C228.9,18.4 228.8,19.7 229.9,21.6 C231.1,23.6 228.9,24.3 231.6,25.0 C234.3,25.7 238.3,23.7 241.6,24.6 C244.9,25.6 246.5,27.9 245.7,29.1 C244.9,30.4 241.0,29.2 238.2,30.0 C235.5,30.7 234.5,30.1 234.1,32.4 C233.7,34.8 235.8,35.9 236.6,39.9 C237.3,44.0 237.6,44.5 237.4,49.9 C237.2,55.4 236.7,58.2 235.7,63.2 C234.8,68.3 234.8,68.6 233.2,71.5 C231.7,74.5 231.2,74.9 229.1,75.7 C226.9,76.5 225.8,76.6 224.1,74.9 C222.3,73.1 222.6,72.5 221.6,68.2 C220.6,63.9 220.9,62.0 219.9,56.6 C219.0,51.1 218.8,49.8 217.4,44.9 C216.1,40.1 216.1,38.1 214.1,35.8 C212.2,33.4 211.3,33.6 209.1,34.9 C207.0,36.3 207.5,40.4 205.0,41.6 C202.4,42.8 201.2,41.3 198.3,39.9 C195.4,38.6 194.0,38.1 192.5,35.8 C190.9,33.4 191.3,32.9 191.6,30.0 C192.0,27.0 192.6,25.3 194.1,23.3 C195.7,21.3 196.0,21.3 198.3,21.3 C200.6,21.3 201.6,22.2 204.1,23.3 C206.7,24.3 207.8,26.0 209.1,25.8 C210.5,25.6 210.3,24.2 210.0,22.5 C209.6,20.7 209.2,19.8 207.5,18.3 C205.7,16.8 201.7,17.1 202.5,16.1Z"/><path d="M508.3,31.1 C509.3,30.2 510.8,30.0 512.2,29.8 C513.7,29.6 514.2,31.2 515.6,30.0 C516.9,28.8 517.8,26.1 518.9,23.9 C520.0,21.7 519.3,20.4 521.1,18.9 C522.9,17.3 524.7,17.1 527.8,16.1 C530.9,15.1 533.3,14.7 536.7,13.9 C540.0,13.1 542.2,12.4 544.4,12.2 C546.7,12.1 546.1,12.9 547.8,13.1 C549.4,13.3 551.0,12.9 552.8,13.1 C554.6,13.3 555.7,13.4 556.7,14.2 C557.7,15.0 558.0,16.4 557.8,17.2 C557.6,18.0 555.8,17.7 555.6,18.3 C555.3,19.0 557.2,20.1 556.7,20.6 C556.1,21.0 554.6,20.2 552.8,20.6 C551.0,20.9 549.9,21.6 547.8,22.2 C545.7,22.9 544.4,22.9 542.2,23.9 C540.0,24.9 538.7,25.6 536.7,27.2 C534.7,28.9 534.0,30.3 532.2,32.2 C530.4,34.1 529.1,35.0 527.8,36.7 C526.4,38.3 525.1,39.0 525.6,40.6 C526.0,42.1 528.0,42.9 530.0,44.4 C532.0,46.0 533.7,47.1 535.6,48.3 C537.4,49.6 539.4,49.9 539.4,50.6 C539.4,51.2 536.9,51.3 535.6,51.7 C534.2,52.0 533.6,51.4 532.8,52.2 C532.0,53.0 532.0,54.3 531.7,55.6 C531.3,56.8 531.7,58.8 530.9,58.3 C530.1,57.9 529.3,55.4 527.8,53.3 C526.3,51.2 524.9,49.6 523.3,47.8 C521.8,46.0 521.3,45.4 520.0,44.4 C518.7,43.4 518.2,43.1 516.7,42.8 C515.1,42.4 514.2,42.6 512.2,42.8 C510.2,43.0 508.9,43.2 506.7,43.9 C504.4,44.6 503.3,44.8 501.1,46.1 C498.9,47.4 497.6,48.4 495.6,50.6 C493.6,52.7 492.6,54.3 491.1,56.7 C489.7,59.0 489.2,61.0 488.3,62.2 C487.4,63.4 487.2,63.1 486.7,62.8 C486.1,62.4 486.1,60.7 485.6,60.6 C485.0,60.4 484.4,62.4 483.9,62.2 C483.3,62.0 483.3,60.2 482.8,59.4 C482.2,58.7 481.3,59.2 481.1,58.3 C481.0,57.4 482.0,56.0 482.0,55.0 C482.0,54.0 480.8,54.8 481.1,53.3 C481.4,51.9 482.2,50.0 483.3,47.8 C484.4,45.6 485.1,44.3 486.7,42.2 C488.2,40.1 489.4,38.7 491.1,37.2 C492.8,35.8 493.0,35.5 495.0,35.0 C497.0,34.5 498.7,34.8 501.1,34.7 C503.6,34.6 505.8,35.2 507.2,34.4 C508.7,33.7 507.3,32.0 508.3,31.1Z"/><path d="M812.8,40.2 C812.8,39.7 816.8,39.7 820.0,39.4 C823.2,39.2 827.4,40.1 828.9,38.9 C830.3,37.7 828.2,35.8 827.2,33.3 C826.2,30.9 824.9,29.0 823.9,26.7 C822.9,24.3 822.2,23.2 822.2,21.7 C822.2,20.1 823.0,19.9 823.9,18.9 C824.8,17.9 825.9,17.8 826.7,16.7 C827.4,15.6 827.3,13.6 827.8,13.3 C828.3,13.1 828.6,15.9 829.1,15.6 C829.7,15.2 830.0,11.8 830.6,11.7 C831.1,11.6 830.7,14.4 831.7,15.0 C832.7,15.6 834.2,13.9 835.6,14.4 C836.9,15.0 837.3,16.2 838.3,17.8 C839.3,19.3 839.4,20.7 840.6,22.2 C841.7,23.8 842.4,24.7 843.9,25.6 C845.3,26.4 846.3,26.7 847.8,26.7 C849.2,26.6 850.0,26.3 851.1,25.3 C852.2,24.3 852.2,22.6 853.3,21.7 C854.4,20.7 855.8,21.4 856.7,20.6 C857.6,19.7 856.9,18.0 857.8,17.2 C858.7,16.4 860.3,17.1 861.1,16.7 C861.9,16.2 860.8,15.3 861.7,15.0 C862.6,14.7 864.3,14.7 865.6,15.3 C866.8,16.0 867.1,16.8 867.8,18.3 C868.4,19.8 868.9,20.9 868.9,22.8 C868.9,24.7 868.6,26.0 867.8,27.8 C867.0,29.6 866.4,30.3 865.0,31.7 C863.6,33.0 860.9,33.6 860.6,34.4 C860.2,35.3 861.7,35.7 863.3,36.1 C865.0,36.5 866.9,36.3 868.9,36.4 C870.9,36.6 871.8,36.1 873.3,36.7 C874.9,37.3 875.4,38.1 876.7,39.4 C877.9,40.8 879.9,42.7 879.4,43.6 C879.0,44.4 877.0,43.7 874.4,43.9 C871.9,44.1 869.6,44.2 866.7,44.4 C863.8,44.7 862.7,44.7 860.0,45.0 C857.3,45.3 856.0,45.6 853.3,45.8 C850.7,46.0 849.6,46.1 846.7,46.1 C843.8,46.1 842.0,45.9 838.9,45.8 C835.8,45.6 833.8,45.7 831.1,45.3 C828.4,45.0 827.8,44.6 825.6,43.9 C823.3,43.2 822.6,42.7 820.0,42.0 C817.4,41.3 812.8,40.7 812.8,40.2Z"/><path d="M175.0,315.3 C177.3,314.5 178.7,314.7 181.6,315.0 C184.5,315.3 185.1,315.7 187.4,316.6 C189.8,317.6 188.7,318.4 191.6,319.1 C194.5,319.8 195.3,319.6 199.9,319.6 C204.6,319.6 206.1,319.1 211.6,319.1 C217.0,319.1 218.6,318.7 223.2,319.6 C227.9,320.6 228.0,320.9 231.5,323.3 C235.0,325.7 235.7,326.5 238.2,330.0 C240.7,333.4 240.8,333.6 242.3,338.3 C243.9,342.9 243.9,344.5 244.8,349.9 C245.8,355.4 246.0,356.5 246.5,361.6 C247.0,366.6 247.4,367.7 246.8,371.5 C246.3,375.4 245.6,375.9 244.0,378.2 C242.4,380.5 242.4,380.9 239.9,381.5 C237.3,382.1 235.9,381.7 233.2,380.7 C230.5,379.7 229.0,378.9 228.2,377.4 C227.4,375.8 227.9,374.6 229.9,374.0 C231.8,373.5 234.2,375.5 236.5,374.9 C238.9,374.3 239.3,374.3 239.9,371.5 C240.4,368.8 239.8,367.9 239.0,363.2 C238.2,358.6 237.9,357.0 236.5,351.6 C235.2,346.1 235.1,342.7 233.2,339.9 C231.3,337.2 230.1,338.4 228.2,339.9 C226.3,341.5 225.8,342.7 224.9,346.6 C223.9,350.5 223.8,351.9 224.0,356.6 C224.2,361.2 225.3,363.1 225.7,366.6 C226.1,370.0 226.7,369.9 225.7,371.5 C224.7,373.2 223.3,373.5 221.5,373.5 C219.8,373.5 219.6,374.0 218.2,371.5 C216.9,369.1 217.1,367.5 215.7,363.2 C214.4,359.0 213.8,357.5 212.4,353.2 C211.0,349.0 211.3,347.4 209.9,344.9 C208.5,342.4 209.3,342.4 206.6,342.4 C203.9,342.4 201.7,342.8 198.3,344.9 C194.8,347.1 194.5,348.5 191.6,351.6 C188.7,354.7 188.5,355.3 185.8,358.2 C183.1,361.1 182.1,363.3 180.0,364.1 C177.8,364.8 177.8,362.9 176.6,361.6 C175.5,360.2 174.2,359.6 175.0,358.2 C175.7,356.9 177.8,357.1 180.0,355.7 C182.1,354.4 184.3,352.8 184.1,352.4 C183.9,352.0 181.6,352.7 179.1,354.1 C176.6,355.4 176.0,357.0 173.3,358.2 C170.6,359.5 169.5,360.1 167.5,359.6 C165.5,359.0 164.8,357.4 164.6,355.7 C164.4,354.1 164.6,354.0 166.6,352.4 C168.7,350.9 170.6,350.8 173.3,349.1 C176.0,347.3 177.5,347.4 178.3,344.9 C179.1,342.4 177.6,341.4 176.6,338.3 C175.7,335.2 175.5,334.1 174.1,331.6 C172.8,329.1 171.8,329.6 170.8,327.5 C169.8,325.3 169.4,324.6 169.6,322.5 C169.8,320.3 170.4,320.0 171.6,318.3 C172.9,316.6 172.6,316.1 175.0,315.3Z"/><path d="M472.7,318.7 C474.8,317.9 476.0,317.7 478.7,318.0 C481.3,318.3 481.7,318.8 484.0,320.0 C486.3,321.2 486.0,321.9 488.7,323.3 C491.3,324.7 491.9,325.1 495.3,326.0 C498.8,326.9 499.3,326.9 503.3,327.1 C507.4,327.2 508.9,326.3 512.7,326.7 C516.4,327.0 516.5,327.0 519.3,328.7 C522.1,330.4 522.2,331.2 524.7,334.0 C527.2,336.8 527.5,338.0 530.0,340.7 C532.5,343.3 533.0,343.2 535.3,345.3 C537.7,347.5 538.4,347.7 540.0,350.0 C541.6,352.3 541.5,352.8 542.0,355.3 C542.5,357.8 542.6,358.3 542.0,360.7 C541.4,363.0 541.2,363.6 539.3,365.3 C537.5,367.0 536.8,367.2 534.0,368.0 C531.2,368.8 530.1,368.8 527.3,368.7 C524.5,368.5 523.7,368.3 522.0,367.3 C520.3,366.4 519.7,365.8 520.0,364.7 C520.3,363.6 521.3,363.8 523.3,362.7 C525.4,361.6 526.8,361.6 528.7,360.0 C530.5,358.4 531.0,358.0 531.3,356.0 C531.6,354.0 530.9,353.0 530.0,351.3 C529.1,349.6 528.7,348.8 527.3,348.7 C525.9,348.5 525.6,349.4 524.0,350.7 C522.4,351.9 522.7,352.8 520.7,354.0 C518.6,355.2 517.5,355.2 515.3,356.0 C513.2,356.8 512.9,356.6 511.3,357.3 C509.8,358.1 510.0,359.1 508.7,359.3 C507.4,359.6 506.2,359.0 505.7,358.3 C505.3,357.5 505.7,356.8 506.7,356.0 C507.7,355.2 508.9,355.8 510.0,354.7 C511.1,353.6 511.6,352.9 511.3,351.3 C511.0,349.8 510.5,349.4 508.7,348.0 C506.8,346.6 506.1,346.2 503.3,345.3 C500.5,344.5 499.2,344.4 496.7,344.4 C494.2,344.4 494.5,344.3 492.7,345.3 C490.8,346.3 490.5,347.1 488.7,348.7 C486.8,350.2 486.4,350.6 484.7,352.0 C483.0,353.4 482.6,354.4 481.3,354.7 C480.0,354.9 479.4,354.0 479.1,352.9 C478.8,351.8 479.0,351.3 480.0,350.0 C481.0,348.7 481.9,348.7 483.3,347.3 C484.7,345.9 485.1,345.7 486.0,344.0 C486.9,342.3 487.5,341.6 487.3,340.0 C487.2,338.4 486.7,338.3 485.3,337.3 C483.9,336.4 482.9,336.0 481.3,336.0 C479.8,336.0 480.2,337.3 478.7,337.3 C477.1,337.3 475.4,336.8 474.7,336.0 C473.9,335.2 474.4,334.6 475.3,334.0 C476.3,333.4 478.4,334.3 478.7,333.3 C479.0,332.4 478.1,331.4 476.7,330.0 C475.3,328.6 474.4,328.6 472.7,327.3 C471.0,326.1 470.1,326.1 469.3,324.7 C468.6,323.3 468.6,322.7 469.3,321.3 C470.1,319.9 470.5,319.4 472.7,318.7Z"/><path d="M771.7,296.7 C774.8,295.9 777.0,295.6 781.7,295.8 C786.3,296.0 787.4,296.7 791.7,297.5 C795.9,298.3 795.7,299.2 800.0,299.2 C804.3,299.2 804.9,298.3 810.0,297.5 C815.1,296.7 816.2,296.3 821.7,295.8 C827.1,295.3 828.9,294.9 833.3,295.3 C837.8,295.7 837.5,295.6 840.8,297.5 C844.1,299.4 845.0,300.4 847.5,303.3 C850.0,306.2 849.9,306.5 851.7,310.0 C853.4,313.5 853.4,314.4 855.0,318.3 C856.6,322.2 856.4,323.2 858.3,326.7 C860.3,330.2 860.2,330.8 863.3,333.3 C866.4,335.9 867.8,336.1 871.7,337.5 C875.6,338.9 876.7,338.9 880.0,339.2 C883.3,339.4 884.3,338.3 885.8,338.7 C887.4,339.1 887.6,339.9 886.7,340.8 C885.7,341.7 884.8,342.3 881.7,342.5 C878.6,342.7 877.2,342.6 873.3,341.7 C869.4,340.7 868.5,340.1 865.0,338.3 C861.5,336.6 860.9,336.3 858.3,334.2 C855.8,332.0 854.6,329.0 854.2,329.2 C853.7,329.4 855.8,331.9 856.3,335.0 C856.9,338.1 857.4,340.4 856.7,342.5 C856.0,344.6 855.5,344.0 853.3,344.2 C851.2,344.4 849.1,344.1 847.5,343.3 C845.9,342.6 846.1,341.8 846.7,340.8 C847.2,339.9 849.0,340.5 850.0,339.2 C851.0,337.8 851.6,336.9 850.8,335.0 C850.1,333.1 849.0,333.0 846.7,330.8 C844.3,328.7 843.2,327.4 840.8,325.8 C838.5,324.3 838.4,323.6 836.7,324.2 C834.9,324.8 834.7,325.8 833.3,328.3 C832.0,330.9 832.2,332.1 830.8,335.0 C829.5,337.9 828.9,338.3 827.5,340.8 C826.1,343.4 826.8,344.3 825.0,345.8 C823.2,347.4 822.3,347.2 820.0,347.5 C817.7,347.8 816.4,347.8 815.0,347.0 C813.6,346.2 813.8,345.2 814.2,344.2 C814.6,343.1 815.1,343.1 816.7,342.5 C818.2,341.9 819.3,343.2 820.8,341.7 C822.4,340.1 822.4,338.8 823.3,335.8 C824.3,332.9 824.8,331.9 825.0,329.2 C825.2,326.4 826.1,325.5 824.2,324.2 C822.2,322.9 820.4,323.7 816.7,323.7 C813.0,323.7 811.6,323.9 808.3,324.2 C805.0,324.5 803.7,323.2 802.5,325.0 C801.3,326.8 802.9,328.2 803.3,331.7 C803.7,335.2 804.2,336.7 804.2,340.0 C804.2,343.3 804.7,344.1 803.3,345.8 C802.0,347.6 800.5,347.3 798.3,347.5 C796.2,347.7 795.1,347.6 794.2,346.7 C793.2,345.8 793.4,344.6 794.2,343.7 C794.9,342.7 796.5,343.7 797.5,342.5 C798.5,341.3 798.7,340.7 798.3,338.3 C797.9,336.0 797.2,335.2 795.8,332.5 C794.5,329.8 794.1,327.2 792.5,326.7 C790.9,326.1 791.1,327.7 789.2,330.0 C787.2,332.3 786.3,333.6 784.2,336.7 C782.0,339.8 782.1,341.0 780.0,343.3 C777.9,345.7 777.3,346.1 775.0,346.7 C772.7,347.2 771.4,346.7 770.0,345.8 C768.6,345.0 768.6,344.0 769.2,343.0 C769.8,342.0 770.9,342.6 772.5,341.7 C774.1,340.8 774.3,341.3 775.8,339.2 C777.4,337.0 777.6,336.0 779.2,332.5 C780.7,329.0 781.5,327.5 782.5,324.2 C783.5,320.9 783.7,320.9 783.3,318.3 C782.9,315.8 782.8,314.9 780.8,313.3 C778.9,311.8 777.5,311.9 775.0,311.7 C772.5,311.5 771.8,311.7 770.0,312.5 C768.2,313.3 768.9,315.0 767.5,315.0 C766.1,315.0 765.2,314.1 764.2,312.5 C763.1,310.9 762.8,310.5 763.0,308.3 C763.2,306.2 763.8,305.5 765.0,303.3 C766.2,301.2 766.8,300.7 768.3,299.2 C769.9,297.6 768.6,297.4 771.7,296.7Z"/></g>
<path d="M106.7,339.3 L85,346.7 L78.3,351.7 L68,370 L60,388 L57,396 L50,416.7 L21.7,438.3 L16.7,460 L20,490 L33.3,520.3 L60,547.5 L140,551 L186.7,549.7 L213.3,543.7 L233.3,514 L248.3,474 L250,440 L248.3,410 L235,393.3 L213.3,388.3 L173.3,366.7 Z" fill="none" stroke="#555" stroke-width="1.1" stroke-dasharray="1.2 2.2" stroke-linecap="butt"/>
<text x="68.75" y="394.5" font-size="13.3" textLength="120" lengthAdjust="spacingAndGlyphs" fill="#383838">Group size advantage</text>
<text x="68.75" y="410" font-size="13.3" textLength="137.5" lengthAdjust="spacingAndGlyphs" fill="#383838">needed to win in another</text>
<text x="68.75" y="425.3" font-size="13.3" textLength="88.3" lengthAdjust="spacingAndGlyphs" fill="#383838">troop’s territory</text>
<text x="85.7" y="508" font-size="13.3" textLength="145.3" lengthAdjust="spacingAndGlyphs" fill="#383838">Distance from opponents’</text>
<text x="85.7" y="523" font-size="13.3" textLength="105.3" lengthAdjust="spacingAndGlyphs" fill="#383838">home range center</text>
<text x="73.3" y="566.3" font-size="13.3" textLength="112.4" lengthAdjust="spacingAndGlyphs" fill="#383838">Monkey troop home</text>
<text x="85.7" y="582" font-size="13.3" textLength="87.6" lengthAdjust="spacingAndGlyphs" fill="#383838">range boundary</text>
<g fill="#5d823b">
<circle cx="141" cy="452" r="2.5"/>
<circle cx="141" cy="456.6" r="2.5"/>
<circle cx="141" cy="461.2" r="2.5"/>
<circle cx="141" cy="465.8" r="2.5"/>
<circle cx="141" cy="470.4" r="2.5"/>
<circle cx="145.7" cy="452" r="2.5"/>
<circle cx="145.7" cy="456.6" r="2.5"/>
<circle cx="145.7" cy="461.2" r="2.5"/>
<circle cx="145.7" cy="465.8" r="2.5"/>
<circle cx="145.7" cy="470.4" r="2.5"/>
<circle cx="172.2" cy="460.3" r="2.5"/>
<circle cx="172.2" cy="464.8" r="2.5"/>
<circle cx="176.8" cy="460.3" r="2.5"/>
<circle cx="176.8" cy="464.8" r="2.5"/>
<circle cx="204.5" cy="463" r="2.4"/>
<circle cx="209.2" cy="463" r="2.4"/>
<circle cx="236.7" cy="464.3" r="2.4"/>
</g>
<line x1="125" y1="486.3" x2="226" y2="486.3" stroke="#1c1c1c" stroke-width="1.2"/>
<path d="M236,486.3 l-15.5,-5.2 l3.6,5.2 l-3.6,5.2 z" fill="#1c1c1c"/>
<polygon points="305.8,350.8 336.7,350.8 345.0,356.7 361.7,376.7 371.7,393.3 366.7,423.3 365.0,429.0 388.3,425.8 403.0,437.0 403.0,452.5 387.5,445.0 380.8,461.7 385.8,474.2 392.5,482.5 389.2,499.3 370.0,505.2 365.0,509.3 351.7,511.0 346.7,527.7 338.3,538.5 321.7,544.3 311.7,549.3 305.8,544.3" fill="#92a783"/>
<polygon points="408.0,440.7 461.7,482.5 474.2,470.8 474.2,443.3 488.3,468.3 498.3,475.0 502.0,479.5 522.0,471.7 532.0,477.8 536.7,484.5 541.3,486.7 541.3,577.7 530.0,574.3 519.2,536.8 500.0,535.2 492.5,528.5 504.2,513.5 505.0,510.2 500.0,500.0 478.3,500.0 458.8,518.7 417.5,482.5 411.7,488.3 408.0,460.0" fill="#92a783"/>
<polygon points="492.5,373.3 499.2,370.0 500.8,381.7 500.0,410.0 506.7,420.8 501.7,435.0 483.3,428.3 485.0,411.7 489.2,393.3" fill="#92a783"/>
<g stroke="#ee1c25" fill="none" stroke-linejoin="round">
<path d="M330.0,380.0 C328.7,380.5 328.9,382.8 325.6,381.6 C322.4,380.3 323.2,378.8 319.1,375.9 C314.9,372.9 314.8,373.9 311.7,371.7 C308.5,369.6 308.2,368.9 308.5,368.8 C308.7,368.7 309.8,368.2 312.5,371.5 C315.1,374.7 315.6,373.5 317.3,379.6 C319.1,385.8 315.2,385.9 318.4,391.9 C321.7,398.0 324.0,397.1 328.2,399.9 C332.4,402.6 330.0,399.6 332.4,401.0 C334.9,402.4 333.7,403.2 336.4,404.5 C339.0,405.8 338.3,405.8 341.3,405.3 C344.4,404.8 343.7,401.2 346.4,402.9 C349.1,404.6 347.0,407.2 350.5,411.0 C354.0,414.8 354.4,414.4 358.1,415.6 C361.7,416.8 362.4,418.0 362.6,415.1 C362.8,412.1 361.8,409.2 358.8,405.8 C355.8,402.4 357.7,403.7 352.5,403.6 C347.4,403.6 347.5,403.9 341.7,405.5 C335.9,407.1 337.2,405.7 333.3,408.9 C329.4,412.2 332.1,414.1 328.8,416.3 C325.5,418.5 326.2,413.0 322.3,416.3 C318.4,419.5 314.7,425.0 315.7,427.0 C316.7,429.1 320.7,421.7 325.6,423.0 C330.5,424.4 329.3,426.4 332.2,431.5 C335.0,436.7 334.9,434.6 335.1,440.1 C335.3,445.6 332.6,444.4 332.9,450.0 C333.1,455.5 331.7,454.8 335.8,458.7 C339.9,462.6 339.6,462.0 346.4,462.8 C353.3,463.7 354.8,463.3 358.7,461.5 C362.6,459.8 359.6,461.4 359.4,457.1 C359.2,452.7 360.0,451.6 358.1,447.0 C356.1,442.4 356.3,444.9 352.8,441.8 C349.3,438.7 349.9,439.0 346.6,436.7 C343.3,434.3 345.6,437.0 341.8,434.0 C338.0,431.0 337.2,430.1 333.9,426.6 C330.7,423.2 333.8,426.6 331.0,422.4 C328.1,418.3 326.0,417.0 324.4,412.8 C322.9,408.5 327.9,412.1 325.8,408.3 C323.7,404.4 321.4,405.5 317.5,399.9 C313.7,394.3 314.2,395.0 312.9,389.7 C311.7,384.3 314.2,386.2 313.3,382.0 C312.4,377.9 309.5,378.2 309.9,375.7 C310.4,373.3 313.9,376.0 314.9,373.8 C315.9,371.6 314.3,372.5 313.2,368.5 C312.1,364.5 310.7,365.4 311.3,360.5 C311.8,355.5 314.0,352.3 315.0,352.1 C316.0,351.9 312.3,357.3 314.7,359.7 C317.2,362.2 321.7,357.0 323.3,360.3 C324.8,363.5 323.8,365.5 319.9,370.6 C316.1,375.8 313.0,373.1 310.4,377.4 C307.8,381.7 311.3,380.9 311.1,384.9 C311.0,388.8 310.8,387.3 309.9,390.6 C309.0,393.8 307.4,394.2 308.1,395.7 C308.7,397.2 307.4,396.2 312.1,395.5 C316.7,394.9 317.3,394.2 323.6,393.5 C329.9,392.9 328.2,392.6 333.0,393.3 C337.8,394.1 336.3,393.5 339.5,396.0 C342.8,398.6 344.7,397.0 343.8,401.8 C342.8,406.7 340.9,409.7 336.3,412.2 C331.8,414.6 332.3,410.5 328.5,410.0 C324.7,409.5 327.2,410.2 323.7,410.5 C320.1,410.8 320.4,410.5 316.7,411.0 C313.0,411.5 313.1,413.1 311.4,412.2 C309.7,411.3 309.8,410.2 310.9,408.0 C312.1,405.8 312.4,408.0 315.2,404.9 C318.0,401.8 314.9,399.4 320.2,397.7 C325.4,396.0 325.6,397.7 332.7,399.2 C339.8,400.7 338.3,401.5 343.8,402.7 C349.2,404.0 347.4,404.0 351.0,403.3 C354.5,402.5 351.2,402.5 355.5,400.3 C359.9,398.0 362.3,399.2 365.4,395.7 C368.4,392.3 366.6,387.2 365.7,388.8 C364.8,390.4 364.8,396.3 362.4,401.1 C360.1,405.9 358.1,401.5 357.8,404.9 C357.6,408.4 359.8,409.2 361.7,412.6 C363.6,415.9 364.1,416.8 364.1,416.1 C364.1,415.3 364.6,414.8 361.7,410.1 C358.7,405.4 354.3,403.2 354.2,400.3 C354.2,397.5 357.5,400.7 361.4,400.4 C365.4,400.2 367.2,399.3 367.3,399.5 C367.4,399.7 366.3,401.4 361.8,401.2 C357.3,401.0 357.9,397.6 352.3,398.7 C346.8,399.9 349.1,405.0 343.3,405.1 C337.5,405.2 337.2,403.9 332.9,399.0 C328.6,394.2 330.8,393.5 329.0,388.9 C327.2,384.3 330.8,385.8 327.0,383.7 C323.2,381.5 315.8,381.4 316.2,381.8 C316.6,382.1 324.8,382.2 328.4,384.8 C332.0,387.3 327.6,387.2 328.2,390.3 C328.8,393.3 331.8,391.0 330.3,394.9 C328.9,398.9 326.5,401.9 323.2,403.4 C319.9,404.9 319.5,403.8 319.2,399.9 C318.9,396.1 323.3,392.7 322.2,390.6 C321.1,388.6 318.4,391.4 315.6,393.1 C312.7,394.7 309.9,396.2 312.7,396.1 C315.5,396.0 318.4,395.9 324.8,392.7 C331.2,389.6 329.6,388.4 334.1,385.6 C338.6,382.8 336.9,385.6 339.9,383.4 C342.8,381.1 341.4,381.1 343.8,378.1 C346.3,375.1 344.6,374.0 348.0,373.4 C351.4,372.7 353.3,373.1 355.2,376.0 C357.1,378.9 357.1,380.9 354.4,383.0 C351.7,385.2 348.5,380.8 346.4,383.1 C344.2,385.4 343.8,386.8 347.3,390.7 C350.8,394.7 352.8,396.1 358.1,396.2 C363.4,396.3 363.2,393.9 365.0,391.1 C366.8,388.3 365.7,387.3 364.1,387.0 C362.5,386.7 362.6,387.2 359.6,390.1 C356.5,393.0 354.7,393.7 354.1,396.7 C353.5,399.7 353.9,398.5 357.6,400.2 C361.2,401.9 366.0,403.9 366.2,402.4 C366.5,400.8 362.2,399.0 358.4,395.0 C354.5,390.9 356.1,388.2 353.3,388.9 C350.6,389.6 348.6,392.3 349.1,397.3 C349.6,402.3 351.7,401.1 354.9,405.5 C358.1,409.9 361.5,408.2 359.7,411.9 C357.9,415.6 354.8,416.5 348.9,417.9 C343.1,419.3 346.4,416.6 340.1,416.6 C333.8,416.6 333.1,417.7 327.9,417.8 C322.7,418.0 326.7,416.7 322.9,417.0 C319.1,417.4 318.8,418.9 315.2,419.0 C311.6,419.1 309.6,419.4 310.9,417.4 C312.1,415.5 314.5,412.2 319.4,412.5 C324.3,412.8 325.8,413.0 327.2,418.5 C328.6,423.9 326.8,427.2 324.2,430.6 C321.5,434.0 321.4,432.2 318.3,429.8 C315.2,427.5 316.4,428.5 313.8,422.9 C311.2,417.2 310.7,416.5 309.7,410.8 C308.7,405.1 309.1,408.9 310.5,403.9 C311.9,398.9 312.1,397.7 314.4,394.3 C316.7,390.9 316.8,394.3 318.2,392.5 C319.5,390.7 319.0,391.7 319.0,388.4 C319.1,385.2 319.6,384.5 318.3,381.6 C317.0,378.6 312.2,380.7 314.8,378.7 C317.3,376.6 321.9,375.8 326.8,374.7 C331.7,373.7 328.3,374.7 331.1,375.3 C333.9,375.8 332.5,377.2 336.1,376.5 C339.7,375.9 339.9,372.6 343.0,373.1 C346.2,373.7 344.0,376.6 346.6,378.3 C349.3,379.9 349.0,375.8 351.9,378.7 C354.9,381.5 353.9,384.3 356.5,387.8 C359.2,391.2 360.0,387.2 360.7,390.2 C361.3,393.2 360.3,394.4 358.8,397.7 C357.3,401.0 359.7,401.2 355.7,401.1 C351.6,401.1 349.8,398.3 345.3,397.4 C340.7,396.5 345.4,398.1 340.6,398.1 C335.7,398.0 334.8,397.0 329.0,397.3 C323.2,397.5 326.0,395.7 321.2,398.8 C316.3,401.9 313.5,405.8 312.7,407.5 C311.8,409.2 315.0,405.5 318.3,404.5 C321.6,403.6 320.3,403.3 323.7,404.3 C327.1,405.2 326.3,405.3 329.6,407.6 C332.9,409.9 331.3,408.9 334.7,412.0 C338.0,415.0 337.3,416.0 340.8,417.7 C344.3,419.4 342.8,417.9 346.3,417.8 C349.9,417.6 349.4,417.3 352.5,417.2 C355.6,417.1 353.7,417.5 356.7,417.4 C359.6,417.4 359.7,419.4 362.3,417.0 C364.9,414.6 365.8,414.7 365.3,409.4 C364.7,404.1 361.9,404.8 360.5,399.3 C359.1,393.7 362.7,395.5 360.7,390.8 C358.6,386.1 355.6,389.1 353.8,383.5 C351.9,377.9 357.2,374.6 354.5,372.2 C351.8,369.8 349.2,374.4 344.8,375.5 C340.3,376.6 341.8,377.5 339.7,375.9 C337.5,374.2 337.8,373.3 337.7,369.9 C337.7,366.6 335.5,365.5 339.4,364.8 C343.4,364.1 346.1,364.0 350.8,367.5 C355.5,371.0 352.7,372.1 355.1,376.4 C357.6,380.7 357.9,377.8 358.8,381.9 C359.7,385.9 359.5,385.9 358.3,389.9 C357.0,393.9 359.5,393.0 354.7,395.1 C349.9,397.2 347.1,397.9 342.4,397.0 C337.6,396.0 342.6,396.1 338.9,391.9 C335.1,387.8 333.7,386.4 329.9,383.2 C326.1,380.1 328.1,384.1 326.3,381.4 C324.6,378.8 326.4,376.9 324.0,374.4 C321.6,372.0 322.4,374.6 318.3,373.3 C314.3,372.1 313.5,372.4 310.5,370.3 C307.4,368.1 306.9,366.3 308.2,366.1 C309.5,365.9 311.6,366.1 314.8,369.6 C318.0,373.1 314.9,376.4 318.9,377.8 C322.9,379.2 322.8,377.2 328.0,374.3 C333.2,371.4 331.7,370.0 336.3,368.1 C340.8,366.3 341.3,364.4 343.2,368.2 C345.0,372.0 342.2,373.7 342.5,380.8 C342.8,388.0 346.1,386.6 344.3,392.0 C342.5,397.5 339.0,393.7 336.6,399.1 C334.2,404.6 338.1,405.1 336.3,410.3 C334.5,415.5 335.7,414.7 330.6,416.6 C325.5,418.4 325.0,418.0 319.3,416.5 C313.6,415.0 312.5,416.3 311.6,411.6 C310.7,406.8 314.0,405.2 316.3,400.7 C318.7,396.2 317.3,401.0 319.4,396.5 C321.5,392.1 320.5,391.2 323.4,385.9 C326.4,380.7 328.0,384.1 329.1,379.1 C330.3,374.0 330.0,373.3 327.2,369.2 C324.5,365.2 320.5,369.3 319.9,365.4 C319.2,361.5 325.8,357.9 325.0,356.2 C324.3,354.6 319.8,358.8 317.5,360.0" stroke-width="0.7"/>
<path d="M335.0,440.0 C334.2,441.1 333.9,441.1 332.3,443.8 C330.8,446.5 333.5,448.5 329.8,449.0 C326.0,449.5 323.2,448.7 319.8,445.5 C316.5,442.3 319.7,442.8 318.4,438.3 C317.2,433.8 318.8,434.5 315.6,430.6 C312.4,426.6 307.8,425.1 307.8,425.2 C307.8,425.3 314.3,427.5 315.7,430.9 C317.0,434.3 313.8,433.7 312.2,436.6 C310.7,439.6 311.6,437.8 310.4,440.8 C309.2,443.8 308.0,442.1 308.2,446.8 C308.5,451.4 308.3,453.3 311.2,456.3 C314.0,459.2 314.3,458.5 317.7,456.6 C321.1,454.7 320.3,453.3 322.4,450.0 C324.6,446.7 321.0,449.0 324.9,445.6 C328.8,442.3 330.2,443.8 335.5,438.7 C340.8,433.6 337.1,431.6 342.6,428.7 C348.0,425.9 354.1,428.2 353.8,429.2 C353.5,430.1 344.7,432.8 341.6,431.9 C338.4,431.1 343.1,430.6 343.3,426.4 C343.5,422.1 343.9,423.8 342.2,417.8 C340.6,411.8 337.4,411.6 337.8,406.3 C338.2,401.0 338.6,400.5 343.5,400.1 C348.5,399.6 347.6,402.6 354.4,404.8 C361.1,407.1 364.7,405.5 366.0,407.5 C367.2,409.4 362.9,407.5 358.6,411.3 C354.3,415.2 354.9,417.3 351.7,420.4 C348.5,423.4 350.4,420.7 347.8,421.4 C345.2,422.1 343.0,419.0 342.9,422.7 C342.9,426.5 344.8,429.2 347.8,433.9 C350.7,438.5 350.4,438.9 352.7,438.2 C355.0,437.5 356.9,431.9 355.5,431.5 C354.1,431.1 350.5,437.3 348.0,436.7 C345.5,436.2 348.3,432.7 347.1,429.6 C345.9,426.5 345.6,428.7 344.0,426.4 C342.5,424.2 342.8,427.0 341.9,422.1 C340.9,417.1 342.4,414.9 340.9,409.9 C339.4,404.8 339.3,407.7 336.8,405.2 C334.3,402.6 333.4,404.6 332.6,401.3 C331.9,398.1 330.9,394.9 334.4,394.3 C337.9,393.7 338.5,397.9 344.3,399.4 C350.2,400.8 351.6,396.6 353.9,399.1 C356.1,401.5 350.1,403.1 351.9,407.7 C353.7,412.2 358.6,410.2 359.9,414.2 C361.1,418.3 359.8,417.3 356.0,421.2 C352.2,425.1 350.5,424.3 347.3,427.3 C344.0,430.3 345.5,426.4 345.2,431.2 C344.8,436.0 347.1,438.0 346.1,443.3 C345.2,448.6 345.2,446.9 342.0,449.0 C338.8,451.1 339.2,449.3 335.5,450.4 C331.8,451.5 328.6,451.1 329.7,452.7 C330.7,454.3 334.0,454.9 339.0,455.6 C344.1,456.4 343.4,453.9 346.5,455.2 C349.6,456.5 347.7,455.0 349.3,459.9 C350.9,464.8 351.8,465.7 351.8,471.6 C351.8,477.5 352.4,474.2 349.3,479.6 C346.1,485.0 344.9,488.6 341.3,489.6 C337.7,490.5 338.6,486.2 337.2,482.7 C335.7,479.3 336.0,481.5 336.4,478.0 C336.7,474.6 336.4,474.6 338.4,471.3 C340.4,468.0 339.1,469.3 343.1,467.1 C347.0,464.9 347.3,463.3 351.5,463.9 C355.6,464.5 357.2,468.9 356.9,469.2 C356.7,469.5 353.8,467.7 350.6,464.9 C347.5,462.2 348.3,463.9 346.5,460.0 C344.6,456.1 346.0,457.0 344.5,451.8 C342.9,446.7 342.1,447.4 341.3,442.8 C340.5,438.2 342.4,440.1 341.8,436.4 C341.2,432.8 343.6,433.8 339.4,430.7 C335.2,427.7 333.3,430.4 327.9,426.2 C322.4,422.0 323.8,420.8 321.2,416.8 C318.6,412.9 321.6,416.7 319.2,413.0 C316.8,409.4 314.5,409.9 313.3,404.7 C312.0,399.5 315.0,399.5 315.0,395.7 C315.0,391.9 310.6,394.2 313.3,392.1 C316.0,390.0 319.3,390.2 324.0,388.7 C328.8,387.2 325.0,387.2 329.1,387.1 C333.2,386.9 332.9,390.0 337.7,388.2 C342.5,386.4 345.6,384.4 345.2,381.1 C344.8,377.7 341.3,379.5 336.4,377.0 C331.4,374.5 332.2,373.3 328.7,372.6 C325.2,371.8 329.4,372.7 324.8,374.5 C320.2,376.3 318.5,374.9 313.4,378.5 C308.3,382.1 307.8,383.7 308.0,386.5 C308.2,389.3 309.9,386.3 314.1,387.8 C318.2,389.4 317.3,388.8 321.7,391.8 C326.1,394.7 323.9,395.3 328.7,397.6 C333.6,399.9 334.1,398.2 337.8,399.5 C341.5,400.8 336.6,400.1 341.1,401.9 C345.7,403.7 348.5,401.8 353.0,405.6 C357.5,409.5 355.9,410.4 356.0,414.8 C356.2,419.2 353.8,416.9 353.4,420.3 C353.1,423.7 356.3,423.6 354.9,426.3 C353.5,429.0 351.6,427.4 348.9,429.2 C346.2,431.0 345.6,429.3 345.9,432.2 C346.3,435.0 347.8,435.1 350.1,438.7 C352.3,442.2 354.1,442.1 353.4,444.0 C352.6,445.9 349.6,443.0 347.5,445.0 C345.3,447.0 349.1,446.8 346.3,450.6 C343.5,454.5 341.7,454.5 338.0,457.9 C334.3,461.3 334.1,457.1 333.9,462.0 C333.7,466.8 334.9,469.3 337.4,474.0 C339.9,478.7 341.8,475.2 342.2,477.7 C342.6,480.3 342.1,478.2 338.7,482.5 C335.3,486.8 333.0,486.8 330.9,492.1 C328.7,497.5 331.7,495.7 331.5,500.5 C331.3,505.3 332.6,503.6 330.2,508.0 C327.7,512.4 327.5,512.3 323.3,515.1 C319.2,518.0 319.9,516.0 316.3,517.5 C312.6,519.1 311.9,520.6 311.1,520.3 C310.2,520.0 310.1,516.1 313.5,516.6 C317.0,517.0 316.7,522.3 322.6,521.7 C328.5,521.0 328.3,516.4 333.2,514.4 C338.0,512.5 338.6,518.3 338.7,515.2 C338.9,512.0 337.3,508.2 333.8,504.0 C330.3,499.8 330.3,502.1 327.1,501.1 C323.9,500.1 325.9,501.9 323.1,500.6 C320.3,499.3 320.5,497.0 317.8,496.9 C315.1,496.8 316.9,502.6 314.0,500.3 C311.1,498.0 310.8,495.8 308.1,489.3 C305.4,482.7 304.3,484.6 305.1,478.4 C306.0,472.3 308.5,474.1 310.9,468.8 C313.4,463.6 311.7,465.4 313.2,461.0 C314.8,456.6 313.5,457.6 316.1,454.3 C318.6,451.0 318.0,454.1 321.8,449.9 C325.6,445.7 323.4,443.3 328.8,440.3 C334.3,437.4 333.4,439.6 340.0,440.0 C346.5,440.4 346.1,440.6 350.6,441.6 C355.1,442.5 357.1,442.0 354.8,443.3 C352.5,444.5 348.0,443.7 343.0,445.6 C337.9,447.6 341.2,449.4 338.0,449.7 C334.9,450.0 337.2,448.1 332.5,446.6 C327.9,445.1 326.7,445.1 322.4,444.6 C318.2,444.2 322.3,446.6 318.4,445.1 C314.5,443.5 311.7,444.8 309.4,439.4 C307.0,434.1 310.8,431.9 310.5,427.2 C310.1,422.4 305.8,422.7 308.3,423.6 C310.8,424.5 313.5,426.9 318.8,430.2 C324.1,433.5 323.5,429.7 325.9,434.6 C328.2,439.6 328.2,440.5 326.6,446.8 C325.0,453.0 325.4,454.5 320.7,455.4 C315.9,456.4 311.7,451.4 310.9,449.9 C310.0,448.4 314.0,450.0 317.7,450.4 C321.5,450.7 318.6,451.6 323.4,451.2 C328.2,450.7 329.4,449.8 333.8,448.8 C338.1,447.9 334.1,447.9 338.0,447.9 C341.9,448.0 342.3,451.7 346.8,449.0 C351.2,446.2 349.6,438.3 352.7,438.8 C355.9,439.3 355.4,445.8 357.3,450.6 C359.3,455.5 358.6,451.2 359.2,455.1 C359.9,459.0 358.9,459.2 359.5,463.5 C360.0,467.7 362.3,469.2 361.1,469.3 C360.0,469.4 359.0,463.1 355.7,463.9 C352.4,464.7 353.6,470.1 350.0,472.0 C346.5,473.9 345.9,473.4 343.7,470.1 C341.6,466.9 344.7,464.6 342.9,461.2 C341.1,457.7 339.4,461.3 337.7,458.7 C336.0,456.1 337.6,457.9 337.3,452.5 C337.0,447.1 335.6,446.7 336.7,440.7 C337.7,434.8 339.4,438.9 340.8,432.6 C342.2,426.4 339.3,425.4 341.4,419.9 C343.5,414.4 343.4,417.5 347.8,414.3 C352.3,411.2 352.0,407.5 356.2,409.4 C360.5,411.4 361.4,414.2 362.0,420.8 C362.6,427.3 362.2,426.2 358.2,431.3 C354.3,436.5 353.6,435.2 348.9,437.9 C344.3,440.6 346.0,438.9 342.9,440.4 C339.7,441.9 342.3,443.2 338.5,442.9 C334.6,442.7 329.4,442.4 330.0,439.6 C330.6,436.8 337.8,437.7 340.5,433.5 C343.2,429.4 337.7,428.9 338.9,425.7 C340.1,422.5 341.3,423.9 344.5,422.8 C347.6,421.8 349.6,424.7 349.4,422.3 C349.1,420.0 347.3,418.2 343.6,415.1 C339.9,412.0 340.6,412.9 337.1,412.0 C333.5,411.1 336.1,412.5 331.8,412.0 C327.5,411.4 327.4,412.9 322.8,410.1 C318.1,407.3 319.6,406.5 316.5,402.6 C313.3,398.8 313.4,395.9 312.2,397.2 C311.1,398.6 310.0,403.3 312.7,407.2 C315.3,411.0 317.0,406.7 321.0,410.0 C325.0,413.3 324.2,412.8 326.0,418.2 C327.8,423.7 327.1,423.1 327.0,428.3 C326.8,433.6 326.1,429.8 325.5,435.8 C324.9,441.7 326.6,443.0 325.1,448.2 C323.5,453.3 321.7,449.2 320.3,452.9 C318.8,456.6 319.0,455.0 320.1,460.6 C321.2,466.2 323.6,466.8 323.8,471.6 C324.1,476.3 323.3,472.3 320.9,476.5 C318.5,480.7 319.2,479.8 315.8,485.6 C312.5,491.4 309.6,494.0 309.7,495.8 C309.8,497.6 313.7,494.4 316.2,491.6 C318.7,488.8 314.5,488.3 317.9,486.5 C321.3,484.6 321.0,485.8 327.5,485.4 C334.0,485.1 334.9,483.5 339.5,485.4 C344.2,487.3 342.4,487.3 343.1,491.7 C343.7,496.1 343.6,495.4 341.8,500.1 C339.9,504.7 341.7,503.6 336.9,507.1 C332.0,510.6 332.0,511.7 325.6,511.7 C319.2,511.7 320.3,511.8 315.5,507.1 C310.8,502.4 312.7,502.8 309.7,496.0 C306.7,489.2 306.5,491.7 305.7,484.4 C304.9,477.2 303.0,475.8 307.1,471.9 C311.1,468.0 315.1,473.2 319.2,471.5 C323.4,469.9 322.8,470.1 320.9,466.4 C319.0,462.7 312.8,463.7 312.8,459.1 C312.9,454.5 316.4,454.9 321.0,451.0 C325.6,447.2 323.8,447.0 328.1,446.2 C332.3,445.4 330.8,445.5 335.1,448.4 C339.5,451.2 339.2,450.1 342.5,455.7 C345.8,461.3 347.4,461.4 346.2,467.0 C345.0,472.6 342.0,471.6 338.6,474.4 C335.1,477.2 338.6,475.1 334.7,476.4 C330.8,477.6 330.5,476.4 325.7,478.6 C320.8,480.7 321.6,480.0 318.5,483.7 C315.4,487.3 315.9,485.9 315.4,490.7 C314.8,495.6 313.9,496.5 316.6,499.8 C319.3,503.1 320.4,499.4 324.3,501.8 C328.2,504.1 329.2,503.7 329.5,507.7 C329.8,511.6 327.8,511.3 325.4,514.9 C323.0,518.5 324.4,516.5 321.5,519.6 C318.5,522.6 316.2,522.1 315.6,525.0 C314.9,527.8 316.8,527.3 319.3,529.1 C321.8,531.0 320.5,529.5 324.0,531.2 C327.4,532.9 327.9,536.2 330.8,534.9 C333.7,533.6 329.6,529.2 333.7,526.9 C337.8,524.6 343.7,527.9 344.5,527.3 C345.3,526.8 338.4,527.2 336.3,524.9 C334.3,522.7 339.2,523.9 337.6,519.9 C336.0,516.0 331.7,517.7 331.0,511.8 C330.4,505.9 333.2,507.2 335.4,500.2 C337.6,493.2 334.2,493.8 338.2,488.5 C342.3,483.1 344.7,483.1 348.8,482.3 C352.9,481.5 349.3,484.8 351.8,485.7 C354.4,486.7 356.8,488.9 357.2,485.4 C357.7,482.0 352.8,480.7 353.4,474.2 C354.0,467.6 359.0,468.8 359.2,463.6 C359.5,458.4 357.2,462.2 354.2,456.8 C351.2,451.4 350.6,451.9 349.3,445.6 C348.0,439.2 348.2,441.5 350.0,435.6 C351.8,429.8 353.5,430.4 355.3,426.1 C357.1,421.7 357.8,423.6 356.1,421.2 C354.5,418.7 355.1,419.6 349.8,417.8 C344.5,416.0 344.1,413.2 338.5,415.0 C332.8,416.9 333.6,419.9 330.9,424.1 C328.2,428.2 332.2,427.3 329.5,428.8 C326.8,430.2 327.6,428.6 322.0,428.9 C316.5,429.1 312.9,427.0 311.0,429.6 C309.1,432.1 311.6,433.5 315.7,437.4 C319.9,441.2 321.2,440.1 325.0,442.4 C328.8,444.8 325.8,442.0 328.4,445.3 C331.0,448.6 328.5,449.6 333.6,453.3 C338.7,457.1 340.4,458.0 345.4,457.9 C350.4,457.9 348.7,455.8 350.3,453.2 C351.9,450.6 349.0,452.7 350.7,449.2 C352.5,445.7 356.8,444.5 356.2,441.5 C355.6,438.6 353.1,442.0 348.7,439.3 C344.4,436.6 345.3,436.2 341.7,432.6 C338.2,429.0 339.3,430.0 336.9,427.3 C334.5,424.6 337.1,425.9 333.6,423.6 C330.1,421.4 327.8,420.9 325.3,419.8" stroke-width="0.7"/>
<path d="M325.0,480.0 C324.1,478.5 324.5,477.0 322.2,474.9 C319.8,472.9 322.1,472.4 317.3,473.3 C312.4,474.1 308.7,477.8 305.9,477.9 C303.1,477.9 306.3,476.3 308.0,473.5 C309.8,470.7 311.0,471.1 311.8,468.4 C312.6,465.7 309.2,464.6 310.7,464.4 C312.2,464.3 315.5,465.1 316.8,467.9 C318.1,470.8 314.6,468.6 315.0,473.8 C315.4,479.1 318.9,480.3 318.2,485.4 C317.5,490.4 316.0,488.2 312.7,490.7 C309.5,493.1 308.7,493.8 307.3,493.4 C305.9,493.0 306.3,492.9 308.1,489.4 C309.8,485.8 309.4,485.1 313.1,481.5 C316.7,477.8 318.2,480.1 320.3,477.1 C322.5,474.2 322.2,473.8 320.3,471.6 C318.4,469.4 312.2,470.4 313.9,469.7 C315.5,469.0 322.5,466.1 325.7,469.1 C328.8,472.1 325.3,474.1 324.5,479.6 C323.7,485.1 323.7,483.4 323.0,487.6 C322.3,491.7 321.3,490.7 322.2,493.5 C323.1,496.3 323.3,494.4 325.9,496.7 C328.6,499.1 327.8,497.4 331.0,501.4 C334.3,505.5 332.2,506.5 336.8,510.3 C341.3,514.2 342.7,515.0 346.2,514.4 C349.7,513.9 349.4,513.0 348.3,508.5 C347.2,503.9 346.2,503.6 342.5,499.2 C338.7,494.8 341.0,497.4 335.8,493.8 C330.6,490.1 327.9,490.8 325.2,487.1 C322.5,483.4 325.6,484.9 326.8,481.4 C328.0,478.0 328.0,479.1 329.2,475.6 C330.4,472.1 329.8,474.6 330.9,469.8 C332.0,464.9 334.3,461.7 333.0,459.4 C331.7,457.1 330.4,461.6 326.7,462.1 C322.9,462.5 325.8,460.0 320.7,460.9 C315.5,461.8 313.6,461.0 309.4,465.1 C305.3,469.2 305.0,468.9 306.8,474.6 C308.6,480.2 310.8,483.4 315.3,483.9 C319.8,484.4 317.0,480.3 321.9,476.2 C326.9,472.1 329.7,474.7 331.9,470.3 C334.1,466.0 329.5,466.2 329.2,461.7 C329.0,457.2 329.7,458.4 330.9,455.2 C332.2,452.1 329.1,451.7 333.4,451.2 C337.7,450.8 340.3,452.5 345.2,453.7 C350.1,454.9 345.2,453.1 349.8,455.3 C354.4,457.6 358.3,458.6 360.5,461.2 C362.7,463.7 358.1,459.9 357.2,463.8 C356.2,467.7 358.6,471.5 357.4,474.3 C356.1,477.1 355.3,470.1 352.9,473.2 C350.5,476.2 353.8,482.4 349.4,484.5 C345.0,486.5 343.2,484.6 338.3,479.9 C333.3,475.2 334.5,473.7 332.9,468.8 C331.3,464.0 332.4,466.5 333.0,463.9 C333.5,461.2 331.4,461.7 334.7,459.9 C338.0,458.1 341.2,461.8 344.0,457.8 C346.9,453.8 344.8,451.2 344.1,446.6 C343.5,441.9 343.8,444.3 341.8,442.3 C339.9,440.2 340.6,441.6 337.6,439.8 C334.6,438.0 335.9,437.2 331.9,436.2 C327.8,435.2 328.0,437.6 324.1,436.6 C320.3,435.5 322.8,435.9 318.9,432.7 C315.1,429.5 312.0,424.5 311.2,425.8 C310.5,427.2 313.6,431.9 316.4,437.2 C319.3,442.5 317.8,439.9 320.7,443.5 C323.6,447.2 322.6,445.1 326.0,449.3 C329.4,453.5 327.6,454.7 332.0,457.5 C336.4,460.3 336.8,457.6 340.7,458.6 C344.5,459.6 345.7,457.6 344.9,460.9 C344.1,464.2 341.1,465.7 337.9,469.6 C334.7,473.6 337.4,470.3 334.2,474.0 C330.9,477.7 330.9,477.9 326.9,482.0 C322.9,486.0 324.5,484.2 320.8,487.6 C317.2,491.0 318.7,490.2 314.8,493.4 C310.9,496.5 307.9,496.8 307.9,498.0 C307.9,499.2 311.1,498.2 314.9,497.4 C318.7,496.6 317.6,496.9 320.5,495.4 C323.3,493.9 323.5,496.1 324.3,492.3 C325.2,488.5 320.7,486.5 323.3,482.8 C325.9,479.0 327.2,479.2 333.0,479.8 C338.8,480.4 337.5,483.6 342.7,484.8 C347.9,486.1 346.3,485.7 350.2,484.0 C354.1,482.3 357.4,479.1 355.8,479.1 C354.3,479.1 350.4,481.2 345.1,484.1 C339.8,487.0 340.8,489.5 338.2,488.8 C335.5,488.1 336.3,486.2 336.4,481.7 C336.5,477.2 338.3,478.8 338.5,473.9 C338.6,469.0 337.7,470.8 336.9,465.4 C336.0,459.9 338.0,458.5 335.5,455.8 C333.0,453.0 333.8,455.1 328.4,456.3 C323.1,457.5 323.8,459.2 317.6,459.9 C311.4,460.5 308.5,458.3 307.9,458.4 C307.2,458.6 311.2,456.9 315.5,460.4 C319.8,463.9 320.4,465.3 322.3,470.0 C324.2,474.7 323.0,471.4 321.7,476.1 C320.4,480.8 322.1,481.1 318.0,485.6 C313.8,490.0 309.3,488.5 307.9,490.9 C306.5,493.3 310.7,491.5 313.5,493.6 C316.2,495.7 315.9,492.9 317.1,498.0 C318.2,503.1 316.9,503.1 317.2,510.6 C317.5,518.1 317.2,518.0 318.1,523.0 C319.0,528.0 317.5,528.5 320.4,527.3 C323.2,526.2 323.5,519.2 327.7,519.1 C331.9,519.1 332.1,527.6 334.4,527.2 C336.6,526.7 335.2,522.7 335.2,517.6 C335.2,512.5 334.5,515.6 334.5,510.1 C334.5,504.6 335.8,505.2 335.1,499.2 C334.4,493.2 335.4,493.4 332.2,490.1 C329.0,486.7 327.9,490.5 324.4,487.9 C320.9,485.4 320.4,486.3 320.5,481.4 C320.7,476.6 321.0,475.7 324.8,471.8 C328.6,468.0 328.7,472.1 333.3,468.7 C337.9,465.3 337.7,466.1 340.1,460.6 C342.5,455.0 339.5,456.6 341.4,450.3 C343.2,444.0 342.8,445.6 346.3,439.6 C349.8,433.7 353.1,435.4 353.2,430.4 C353.3,425.4 350.5,425.7 346.5,423.0 C342.5,420.4 344.3,420.5 339.9,421.6 C335.5,422.7 337.4,425.8 331.8,426.7 C326.2,427.5 326.6,427.2 321.1,424.4 C315.7,421.7 316.2,417.2 313.6,417.4 C311.1,417.6 309.9,420.9 312.7,425.1 C315.5,429.3 319.5,428.0 323.1,431.5 C326.7,435.0 322.1,434.4 324.7,436.9 C327.2,439.4 327.9,440.8 331.5,439.8 C335.1,438.7 333.1,436.8 336.7,433.3 C340.4,429.8 340.4,430.7 343.8,428.1 C347.1,425.5 344.2,426.3 348.0,424.6 C351.7,423.0 354.8,424.2 356.3,422.5 C357.7,420.8 356.9,419.4 352.8,419.0 C348.8,418.6 347.7,418.8 342.7,421.2 C337.8,423.5 337.7,422.6 336.4,426.8 C335.0,431.0 335.5,432.6 338.4,435.2 C341.2,437.8 341.2,433.6 346.0,435.4 C350.7,437.3 353.8,438.8 354.1,441.3 C354.4,443.8 350.4,442.5 347.1,443.8 C343.8,445.2 345.3,444.5 343.0,445.7 C340.7,447.0 342.8,448.0 339.5,448.0 C336.3,447.9 335.8,444.6 332.3,445.5 C328.8,446.4 331.0,448.9 327.8,451.0 C324.6,453.1 327.2,452.0 321.7,452.4 C316.1,452.8 313.3,454.9 309.4,452.3 C305.4,449.7 308.3,448.5 308.5,443.7 C308.7,439.0 307.9,438.2 310.1,436.5 C312.3,434.7 313.2,434.2 315.8,437.8 C318.4,441.4 320.1,443.4 318.8,448.5 C317.5,453.6 313.2,451.2 311.5,454.8 C309.8,458.4 312.4,455.1 313.1,460.5 C313.8,466.0 311.1,467.0 313.7,473.0 C316.4,479.0 320.1,475.0 321.9,480.6 C323.8,486.2 319.0,486.0 319.7,491.6 C320.4,497.1 322.3,495.4 324.2,499.1 C326.2,502.8 325.7,499.0 326.2,503.9 C326.6,508.7 324.7,510.4 325.8,515.3 C326.9,520.2 326.5,517.9 329.8,520.2 C333.2,522.6 333.8,521.0 337.0,523.2 C340.2,525.3 340.9,524.7 340.6,527.5 C340.4,530.2 338.9,529.5 336.3,532.2 C333.7,535.0 334.9,537.0 332.0,536.7 C329.1,536.4 331.2,531.0 326.6,531.1 C322.0,531.2 320.4,536.5 316.7,537.1 C313.1,537.7 313.9,537.4 314.4,533.2 C314.9,529.0 318.8,526.5 318.4,523.1 C318.1,519.7 315.7,523.2 313.3,521.9 C311.0,520.7 310.7,520.8 310.6,518.8 C310.5,516.9 310.9,517.3 313.0,515.5 C315.1,513.7 314.2,514.4 317.5,512.8 C320.8,511.3 321.5,509.6 324.1,510.3 C326.7,511.0 326.8,512.7 326.1,515.2 C325.4,517.7 323.1,514.0 321.8,518.5 C320.4,523.1 318.9,525.8 321.6,530.4 C324.3,535.0 328.1,532.8 330.8,533.9" stroke-width="0.7"/>
<path d="M322.0,520.0 C321.5,517.6 320.5,516.6 320.4,512.0 C320.3,507.3 322.0,508.5 321.6,504.5 C321.1,500.4 320.9,502.7 319.0,498.5 C317.0,494.3 318.2,493.0 315.1,490.6 C311.9,488.2 309.8,489.4 308.4,490.4 C307.0,491.3 308.2,491.9 310.4,493.7 C312.7,495.6 312.8,494.7 316.0,496.6 C319.2,498.5 319.5,499.9 321.2,500.0 C323.0,500.2 322.4,500.4 321.9,497.1 C321.5,493.7 322.6,491.4 319.7,488.8 C316.8,486.2 314.8,486.0 312.3,488.5 C309.8,490.9 311.6,492.3 311.3,497.0 C310.9,501.7 310.8,499.9 311.1,504.2 C311.3,508.4 311.0,506.9 312.0,511.1 C313.0,515.4 315.0,513.6 314.3,518.3 C313.6,522.9 311.3,522.2 309.7,526.6 C308.1,531.0 308.3,531.4 308.9,532.9 C309.6,534.4 308.7,532.5 311.9,531.6 C315.0,530.7 315.5,532.4 319.4,529.9 C323.4,527.4 323.3,526.9 325.1,523.3 C326.9,519.7 327.5,520.5 325.4,517.9 C323.3,515.2 321.3,516.3 318.1,514.5 C314.8,512.7 317.4,512.0 314.5,511.9 C311.5,511.8 307.9,512.3 308.2,514.1 C308.6,516.0 312.9,515.6 315.7,518.1 C318.5,520.6 317.0,523.4 317.6,522.5 C318.2,521.6 317.9,519.9 317.7,515.2 C317.5,510.5 317.9,510.8 317.0,507.0 C316.0,503.2 314.8,506.0 314.5,502.7 C314.3,499.4 316.5,498.6 316.2,496.0 C315.9,493.4 316.3,493.2 313.6,494.0 C311.0,494.8 309.0,496.4 307.5,498.7 C305.9,501.1 306.5,502.1 308.5,501.9 C310.6,501.6 310.8,498.0 314.3,497.9 C317.9,497.8 316.4,500.9 320.3,501.7 C324.2,502.4 323.4,502.1 327.3,500.4 C331.3,498.7 332.0,498.6 333.4,496.0 C334.8,493.4 334.3,494.6 332.0,491.8 C329.7,489.0 328.7,487.9 325.8,486.7 C322.9,485.4 325.8,487.0 322.3,487.7 C318.8,488.3 317.6,485.9 314.3,488.9 C311.0,491.8 310.3,494.2 311.2,497.4 C312.2,500.6 314.0,498.4 317.6,499.6 C321.1,500.7 320.8,499.4 323.1,501.2 C325.4,503.1 321.9,504.9 325.3,505.9 C328.6,506.8 330.7,504.4 334.3,504.4 C337.9,504.4 335.3,505.2 337.3,505.9 C339.4,506.5 337.4,506.2 341.1,506.6 C344.7,507.0 347.5,508.7 349.4,507.2 C351.3,505.7 348.9,503.4 347.3,501.6 C345.8,499.7 347.1,499.1 344.3,501.0 C341.5,502.8 342.7,505.8 338.0,507.7 C333.3,509.6 332.0,506.4 328.6,507.2 C325.1,507.9 328.6,507.7 326.5,510.2 C324.3,512.7 323.7,513.3 321.5,515.5 C319.2,517.6 320.7,516.7 319.0,517.4 C317.4,518.1 318.4,515.3 316.0,517.7 C313.6,520.2 311.4,521.2 311.0,525.7 C310.6,530.1 312.7,528.2 314.7,532.5 C316.7,536.8 314.6,538.5 317.7,540.0 C320.8,541.5 324.9,539.1 325.0,537.4 C325.0,535.7 317.7,535.5 317.9,534.3 C318.1,533.0 321.1,533.4 325.6,533.1 C330.1,532.9 332.6,534.9 332.9,533.3 C333.2,531.7 331.0,529.8 326.6,527.8 C322.1,525.8 322.1,526.7 317.9,526.8 C313.8,526.8 314.0,525.6 312.6,528.0 C311.3,530.4 314.8,532.3 313.4,534.8 C312.1,537.2 308.2,536.5 308.2,536.2 C308.2,535.9 311.1,532.6 313.4,533.7 C315.7,534.8 314.0,539.0 315.9,540.0 C317.8,541.0 319.8,538.9 319.8,537.0 C319.8,535.1 318.4,536.8 315.9,533.6 C313.4,530.4 313.9,527.3 311.5,526.4 C309.1,525.4 308.0,531.3 307.9,530.5 C307.8,529.7 310.5,526.6 311.2,523.7 C311.9,520.8 311.3,523.6 310.2,520.9 C309.2,518.1 306.9,518.5 307.6,514.5 C308.3,510.6 309.1,511.5 312.6,507.8 C316.0,504.2 315.6,505.9 319.1,502.3 C322.6,498.7 321.3,497.8 324.3,495.8 C327.3,493.8 326.2,497.9 329.1,495.7 C332.0,493.5 330.0,491.9 333.9,488.5 C337.7,485.2 340.0,487.3 342.0,484.6 C344.0,481.9 339.1,482.8 340.4,479.5 C341.7,476.3 343.2,475.6 346.3,473.7 C349.3,471.8 347.9,473.5 350.6,473.1 C353.2,472.8 355.3,474.1 355.1,472.5 C354.8,471.0 352.6,469.7 349.7,468.1 C346.8,466.5 347.7,466.4 345.4,467.2 C343.1,467.9 344.4,468.3 342.1,470.6 C339.9,472.9 338.3,473.0 337.9,474.9 C337.5,476.7 339.5,475.0 340.9,476.8 C342.3,478.7 340.3,480.6 342.6,481.0 C345.0,481.4 346.3,477.2 348.8,478.1 C351.3,479.1 348.5,482.4 351.0,484.2 C353.5,486.0 356.6,484.2 357.2,484.0 C357.7,483.8 355.4,482.6 352.9,483.7 C350.4,484.7 351.9,486.8 348.8,487.6 C345.7,488.3 347.1,487.7 342.6,486.2 C338.0,484.7 337.7,484.6 333.7,482.5 C329.7,480.4 330.2,482.7 329.3,479.3 C328.4,475.9 329.3,474.2 330.8,471.2 C332.3,468.2 332.7,471.6 334.3,469.2 C335.9,466.8 335.8,465.8 336.2,463.1 C336.6,460.3 334.7,458.5 335.5,460.0 C336.3,461.5 338.3,463.9 338.8,468.1 C339.3,472.3 336.6,470.1 337.2,474.1 C337.9,478.1 338.5,478.0 340.8,481.4 C343.1,484.8 343.7,484.3 344.9,485.5" stroke-width="0.7"/>
<polyline points="345.5,377.1 340.7,352.3 330.9,388.9 332.7,393.4 333.5,387.3 314.0,375.0 309.9,393.8 333.8,382.3 323.6,376.9 347.6,409.2 330.5,403.0 316.7,357.9 326.7,372.8 326.0,387.6 358.2,375.7 331.4,388.9 330.7,398.0 347.0,367.6 332.5,381.3 334.2,363.6 315.2,352.6 335.7,387.7 331.7,351.9 327.6,374.4 318.3,372.2 337.3,392.6 330.8,392.2 325.6,386.0 331.4,392.8 330.4,383.0 329.8,376.0 351.1,392.2 334.9,417.1 343.6,363.2 337.3,396.7 348.0,403.4 337.9,368.5 323.2,388.8 335.5,370.7 327.5,379.4 331.5,389.7 328.4,367.7 342.2,407.3 330.0,399.3 335.0,394.2 335.3,374.3 336.2,399.1 322.9,412.5 349.8,410.5 348.9,395.4 328.0,376.6 323.7,386.6 330.7,394.4 312.8,417.4 351.5,384.6 337.1,391.7 333.5,382.1 329.9,373.5 332.6,384.7 333.9,373.0 331.4,385.7 336.4,370.1 334.8,398.8 336.4,379.8 326.6,381.7 337.6,406.7 329.6,376.0 334.4,387.9 322.8,374.7 330.1,394.4" stroke-width="0.7"/>
<polyline points="324.1,423.7 341.0,420.4 337.1,445.6 334.9,423.7 335.4,434.7 339.4,426.6 346.9,413.2 334.2,440.1 345.6,430.3 341.5,430.9 343.4,467.8 332.0,447.1 326.7,455.6 348.1,440.6 324.7,446.4 347.5,457.4 344.1,410.7 329.2,462.8 323.7,458.1 354.8,452.2 347.2,434.7 323.7,438.4 334.0,439.2 343.0,437.7 337.9,446.8 335.9,469.5 340.4,441.4 333.9,430.0 349.4,442.4 325.2,431.0 334.6,432.9 346.8,421.4 340.9,442.3 324.2,440.8 335.1,448.0 331.5,444.9 319.3,422.7 343.8,456.7 335.9,430.4 346.8,406.5 328.0,450.8 342.5,423.5 317.1,463.2 337.5,425.7 336.5,454.4 310.1,457.8 343.4,406.7 343.7,411.5 347.4,446.4 358.5,430.2 336.0,456.8 329.6,428.7 332.3,438.8 325.2,447.7 341.4,441.1 353.0,434.8 349.1,431.3 343.6,409.0 338.0,437.2 331.0,430.2 332.5,428.5 314.1,430.5 330.5,431.6 325.4,437.8 343.8,436.0 331.1,461.7 345.8,454.7 347.6,434.8 334.7,457.8 330.5,438.1 339.8,446.0 333.2,455.7 334.2,451.6 346.7,450.5 343.3,421.4 322.9,430.1 340.8,464.0 323.8,444.9 327.5,428.3 333.2,451.1 338.1,458.9 326.1,454.2 345.3,441.1 340.8,431.0 325.1,433.5 329.6,486.2 331.1,466.4 338.0,445.0 343.4,427.5 345.2,446.0" stroke-width="0.7"/>
<polyline points="313.9,488.4 330.4,486.3 338.7,474.2 330.1,490.5 318.8,496.8 314.4,461.8 330.2,464.8 325.1,457.0 326.6,464.1 328.7,458.5 329.6,476.3 326.5,479.1 327.0,461.5 305.5,480.5 318.5,473.6 329.4,452.2 319.9,471.5 317.5,484.6 324.9,468.5 318.1,491.3 320.7,488.2 329.6,453.5 317.3,480.0 328.7,490.9 332.4,494.5 323.0,477.1 332.2,474.0 334.5,457.8 331.2,477.6 310.3,493.7 328.5,480.3 317.4,473.5 338.1,468.4 298.2,468.0 316.4,478.2 322.9,467.2 319.3,494.7 314.5,507.4 321.6,464.7 332.3,487.9 317.7,490.5 311.3,467.1 335.0,476.4 315.6,487.2 333.3,479.7 311.5,475.2 329.3,490.8 340.8,476.5 322.1,479.5 335.6,466.8 336.4,441.5 332.4,470.5 329.7,489.6 316.5,478.8 327.9,488.2 318.6,466.1 310.6,515.6 324.5,476.9 314.0,493.0 321.7,500.1" stroke-width="0.7"/>
<polyline points="352.7,455.2 351.5,445.0 342.1,449.8 333.6,455.2 343.7,467.9 314.8,449.0 336.7,450.8 348.8,458.6 345.3,450.7 349.5,458.2 328.4,452.6 332.6,444.4 346.3,455.5 346.0,447.1 343.2,446.8 348.4,461.2 360.8,466.4 337.8,450.9 336.6,457.8 362.8,461.4 325.2,443.7 333.4,459.6 345.0,457.7 361.0,447.6 337.4,472.7 348.1,448.0 326.7,441.3 323.0,455.6 345.4,463.9 343.7,448.8 338.3,472.1 329.1,456.6 345.2,460.6 341.4,459.5 352.3,453.7 340.9,453.3 336.3,453.1 342.3,456.9 357.0,466.8 341.0,460.4" stroke-width="0.7"/>
<polyline points="324.5,528.4 323.1,522.9 320.7,511.4 327.4,534.3 326.3,524.8 324.3,515.0 314.1,527.3 324.0,513.9 318.2,534.1 314.0,539.4 326.2,546.1 319.4,519.8 320.5,521.7 322.0,511.8 328.4,511.4 320.5,526.1 320.3,515.2 324.8,516.0 316.8,518.9 321.9,538.8 317.5,530.7 319.1,516.1 321.4,523.0 327.3,539.2 319.8,534.6 328.0,528.9 319.2,529.9 322.5,523.9 321.7,527.3 328.6,532.4 322.0,530.9 330.3,509.7 330.4,505.3 325.7,526.5 330.4,523.1 320.6,511.2 316.7,528.4 321.8,512.1 325.7,511.6 320.8,515.0" stroke-width="0.7"/>
<polyline points="318.3,492.2 309.2,425.4 311.4,461.6 311.7,472.4 308.4,480.4 314.2,464.6 308.0,449.4 313.5,435.8 309.2,443.5 303.0,473.3 309.9,460.8 314.4,427.1 309.7,466.4 314.2,436.1 313.6,464.8 316.8,485.1 312.7,507.3 310.0,450.7 308.3,439.3 309.9,418.7 309.6,469.4 315.0,452.4 316.9,445.7 309.3,418.7" stroke-width="0.7"/>
<polyline points="338.9,445.8 347.7,445.8 349.4,443.8 357.2,440.7 362.0,438.6 367.0,435.3 373.4,438.6 381.3,435.2 383.9,434.2 392.8,436.3 397.1,437.5 402.4,440.8 406.7,440.8 412.1,447.1 415.4,448.8 423.3,451.5 426.0,458.0 433.2,459.5 435.6,464.4 439.6,465.2 448.1,471.9 449.3,474.0 454.6,477.2 458.9,485.8 460.3,485.3 465.1,484.5 469.4,482.9 472.6,477.6 477.2,475.5 482.4,471.7 488.0,468.0" stroke-width="0.7"/>
<polyline points="340.2,447.1 348.0,444.9 353.1,444.2 358.4,440.8 363.3,440.1 366.9,438.3 373.3,436.7 381.1,434.6 382.6,432.0 390.8,434.8 398.0,437.8 405.2,440.4 408.0,441.9 412.8,448.0 418.9,446.2 423.3,454.3 428.2,452.8 431.6,458.8 437.6,460.8 440.7,467.4 445.1,472.1 450.7,475.4 452.4,479.1 459.0,482.9 464.0,482.5 462.2,484.1 469.4,481.7 472.8,477.0 477.7,473.2 479.3,472.4 488.0,468.0" stroke-width="0.7"/>
<polyline points="340.4,447.2 344.6,445.4 351.0,442.9 358.1,438.5 362.4,437.5 367.3,440.0 371.9,436.6 378.4,437.0 383.6,432.1 392.2,435.2 397.5,438.6 401.4,439.5 407.5,443.6 411.3,447.5 420.2,448.4 424.7,449.0 429.0,454.5 432.2,457.5 436.1,460.2 441.4,467.9 448.6,469.5 449.9,474.0 452.6,482.6 459.0,485.2 460.3,483.0 465.9,485.1 467.3,482.1 471.7,478.3 476.6,473.4 483.7,471.6 488.0,468.0" stroke-width="0.7"/>
<polyline points="341.5,445.8 347.8,446.9 351.0,443.7 355.4,440.8 360.1,439.1 368.0,439.8 374.9,437.9 378.7,435.3 384.5,434.8 388.7,436.9 395.7,436.3 402.7,439.3 409.7,442.9 414.3,447.7 416.3,449.6 423.9,451.5 427.1,454.2 432.1,457.5 437.1,463.4 444.0,466.2 447.3,471.2 450.2,473.5 455.9,478.7 459.3,483.6 463.6,483.0 465.2,486.2 467.3,482.8 472.1,474.8 479.0,475.0 482.7,467.4 488.0,468.0" stroke-width="0.7"/>
<polyline points="339.9,446.6 345.0,444.6 348.4,442.2 359.1,443.2 361.5,438.0 368.3,439.4 374.5,435.1 379.5,435.8 387.1,436.2 392.3,437.5 397.4,439.2 402.1,440.6 408.7,441.7 411.0,443.5 417.2,448.9 421.5,452.7 424.0,455.0 432.1,457.6 438.1,464.5 441.4,464.6 446.1,470.1 451.5,473.8 455.8,478.5 459.2,485.6 461.7,487.6 463.6,483.8 469.4,481.9 471.4,477.7 476.9,474.9 485.0,471.1 488.0,468.0" stroke-width="0.7"/>
<polyline points="339.8,447.3 341.2,446.1 351.8,443.2 355.9,439.9 361.7,440.7 367.6,439.8 369.8,436.1 379.6,435.6 382.6,433.5 393.3,433.9 396.6,435.4 401.9,440.9 408.2,440.1 414.1,445.1 416.2,451.4 421.9,450.2 426.1,454.0 430.5,457.5 438.3,462.5 440.0,470.0 445.6,470.2 450.7,476.1 453.9,480.7 461.0,485.1 459.4,485.0 462.8,483.5 468.9,481.2 472.9,478.6 477.7,472.1 484.3,470.5 488.0,468.0" stroke-width="0.7"/>
<polyline points="341.7,446.1 346.3,445.5 347.1,440.8 354.9,443.0 359.3,440.3 369.3,438.6 374.5,436.0 379.2,435.9 385.6,435.5 391.2,434.7 397.2,437.6 400.3,438.2 406.7,442.2 411.6,442.2 416.5,448.6 423.1,449.1 426.6,455.7 432.7,459.7 438.5,460.5 442.9,465.5 445.8,472.2 449.8,473.8 453.7,478.8 459.5,485.5 463.0,485.1 463.1,485.5 467.7,480.0 473.1,477.4 479.7,473.1 483.5,471.0 488.0,468.0" stroke-width="0.7"/>
<polyline points="338.2,445.4 345.2,445.6 351.5,443.7 356.6,440.4 362.6,437.6 365.8,437.4 371.4,436.0 378.2,434.8 384.9,433.3 390.9,433.3 398.2,435.7 403.3,435.9 406.2,443.4 408.5,445.5 417.1,449.1 419.8,452.3 427.2,453.6 433.1,457.9 437.0,461.3 442.8,466.1 448.6,470.7 449.8,474.7 455.7,479.5 458.6,485.8 460.7,481.1 464.2,484.3 468.9,479.6 475.1,477.1 477.1,473.0 483.5,469.4 488.0,468.0" stroke-width="0.7"/>
<polyline points="338.5,449.9 347.4,446.5 353.0,443.9 354.1,442.7 363.8,439.7 364.9,439.7 375.5,436.0 379.4,436.8 384.9,436.1 391.6,436.8 398.1,434.9 401.2,444.6 407.7,444.9 413.7,448.5 417.8,448.1 422.0,449.2 426.7,456.3 428.9,458.3 438.2,463.9 440.7,465.1 444.3,468.5 451.4,478.0 452.7,482.0 458.6,484.3 464.2,480.8 463.9,484.3 471.8,483.3 476.6,477.5 479.4,476.0 483.7,471.5 488.0,468.0" stroke-width="0.7"/>
<polyline points="339.7,446.4 343.7,447.8 350.3,440.0 356.9,441.0 362.3,441.6 367.6,437.5 372.4,436.7 378.6,435.9 389.6,435.1 390.3,438.6 399.3,438.2 403.7,441.2 408.3,445.1 413.5,448.0 416.3,449.0 420.9,453.4 428.2,454.3 432.9,461.8 438.8,460.4 441.9,466.9 446.9,470.6 452.4,475.5 452.7,481.0 457.9,485.2 460.2,482.5 462.2,483.5 467.1,476.7 475.0,475.6 476.9,474.8 479.5,473.0 488.0,468.0" stroke-width="0.7"/>
<polyline points="338.9,448.0 344.8,445.4 351.2,443.0 353.8,438.9 361.9,441.1 367.0,438.7 373.7,437.5 380.7,433.4 385.4,434.2 391.0,434.5 396.9,435.5 401.1,443.7 409.8,443.0 413.1,444.6 412.9,446.3 422.2,454.1 426.9,453.5 431.6,456.5 435.0,461.7 441.4,464.8 445.7,468.6 451.0,477.0 454.0,483.3 455.6,485.4 459.3,484.3 464.1,484.8 470.3,479.9 471.5,477.1 478.4,473.0 484.3,473.5 488.0,468.0" stroke-width="0.7"/>
<polyline points="337.9,447.5 347.0,442.2 351.3,442.7 354.4,442.9 362.3,438.3 368.4,438.8 374.6,437.6 379.8,433.9 384.4,434.7 387.5,438.9 397.4,435.5 400.0,440.4 407.4,442.1 411.4,444.7 415.9,448.9 421.1,453.0 426.8,455.2 432.6,459.9 437.9,462.3 441.8,464.8 446.5,471.0 451.0,474.4 452.4,477.8 458.5,486.5 461.5,482.5 463.7,484.3 467.3,481.2 473.0,476.1 476.2,475.2 483.5,469.7 488.0,468.0" stroke-width="0.7"/>
<polyline points="338.5,448.3 346.4,444.6 353.3,442.6 355.0,442.6 361.7,439.5 367.8,436.4 371.8,436.5 381.3,434.2 387.0,434.8 389.9,436.1 398.8,435.7 399.6,440.5 405.7,443.6 409.2,445.8 415.8,446.8 421.6,452.3 426.2,453.3 432.3,455.4 437.8,462.7 444.4,467.3 447.5,470.4 450.7,473.1 456.5,480.8 457.6,483.3 463.2,485.3 462.3,485.0 471.4,480.6 473.9,476.7 477.1,475.6 487.5,471.2 488.0,468.0" stroke-width="0.7"/>
<polyline points="339.8,448.2 345.1,446.1 352.2,441.5 354.9,440.9 363.2,439.4 369.6,435.9 374.2,435.8 379.4,436.1 383.6,434.2 389.8,436.1 396.8,436.3 403.0,439.0 409.0,442.1 413.2,446.4 415.5,448.7 420.8,451.5 426.6,457.6 431.4,460.3 437.7,460.1 438.6,467.0 444.1,471.0 452.2,475.6 454.0,479.6 458.4,484.6 460.2,484.0 465.7,483.1 469.2,479.0 472.3,475.3 477.7,475.0 483.4,470.3 488.0,468.0" stroke-width="0.7"/>
<polyline points="340.9,446.5 346.0,445.4 351.8,439.4 354.6,442.1 361.8,442.3 367.4,437.1 375.7,437.6 382.0,436.4 384.7,435.6 390.4,435.1 397.2,436.7 403.8,439.3 407.8,442.3 413.3,442.0 416.7,449.2 420.4,453.5 427.3,456.9 433.4,458.9 436.8,460.4 441.7,465.3 447.4,469.3 455.1,472.7 456.0,479.3 457.6,486.3 461.0,482.7 464.6,483.7 465.7,481.0 471.8,476.3 478.7,474.4 482.6,474.1 488.0,468.0" stroke-width="0.7"/>
<polyline points="340.6,446.1 345.8,444.8 347.8,440.7 354.5,444.0 361.7,438.6 366.9,439.3 373.5,439.2 380.4,438.0 384.8,435.0 390.9,435.5 395.5,436.2 401.3,439.1 409.1,443.4 413.8,447.2 418.3,450.5 421.1,453.2 426.5,454.2 433.7,461.1 435.6,464.5 443.2,464.8 447.4,470.5 451.2,474.5 452.5,480.0 459.2,486.1 462.0,486.1 462.6,483.9 469.2,482.1 473.6,478.1 478.2,477.0 479.8,471.0 488.0,468.0" stroke-width="0.7"/>
<polyline points="347.2,453.5 343.5,451.0 349.6,446.9 358.5,449.6 364.6,445.1 371.5,441.8 373.2,438.8 380.7,437.2 383.6,435.9 386.8,433.3 394.8,436.0 400.0,438.0" stroke-width="0.7"/>
<polyline points="342.1,456.0 348.0,450.6 350.2,446.0 358.8,444.2 364.6,441.4 369.6,441.2 377.1,438.2 379.2,438.4 385.1,440.2 389.5,434.4 394.3,437.8 400.0,438.0" stroke-width="0.7"/>
<polyline points="342.5,454.5 344.4,455.9 356.6,448.3 355.4,446.3 364.5,438.9 369.4,438.2 376.0,441.9 382.2,434.6 387.9,438.6 389.2,436.6 398.2,436.0 400.0,438.0" stroke-width="0.7"/>
<polyline points="342.0,451.8 349.8,446.1 355.7,446.3 360.0,442.6 361.7,442.4 371.1,437.9 376.3,437.7 382.6,437.2 386.0,436.3 393.8,434.7 394.9,440.9 400.0,438.0" stroke-width="0.7"/>
<polyline points="342.2,454.5 345.8,451.1 347.9,448.6 356.6,442.8 360.7,446.1 370.2,438.1 378.8,437.5 379.2,438.4 382.6,433.2 388.4,438.0 397.0,433.4 400.0,438.0" stroke-width="0.7"/>
<polyline points="344.5,453.1 348.4,450.8 353.5,446.2 356.1,444.5 362.9,445.0 366.8,444.7 373.7,437.8 381.5,438.8 384.3,434.4 387.9,432.1 397.4,439.0 400.0,438.0" stroke-width="0.7"/>
<polyline points="346.0,454.1 348.0,452.3 354.7,447.8 358.7,450.6 360.1,440.7 367.3,442.9 377.5,438.3 381.4,437.7 385.6,435.5 389.9,435.5 397.4,441.5 400.0,438.0" stroke-width="0.7"/>
<polyline points="417.4,455.8 423.0,460.6 427.5,464.6 430.2,466.4 429.5,474.4 438.1,475.0 442.5,481.6 441.5,486.3 449.1,490.2 455.0,490.9 456.8,489.2 462.0,487.0" stroke-width="0.7"/>
<polyline points="421.5,454.0 420.3,462.3 428.7,464.5 428.2,466.0 429.6,472.8 438.2,474.8 440.7,480.3 444.6,485.7 453.5,487.6 457.2,493.6 458.6,489.3 462.0,487.0" stroke-width="0.7"/>
<polyline points="418.1,456.6 422.2,458.3 426.1,462.3 427.5,467.3 434.1,471.7 437.1,474.2 437.9,483.3 444.4,482.8 450.3,489.4 453.5,490.7 459.4,488.2 462.0,487.0" stroke-width="0.7"/>
<polyline points="421.2,456.4 423.6,458.6 425.9,462.6 428.8,468.2 431.6,473.4 440.1,475.5 441.2,481.9 445.9,484.7 449.8,490.0 456.9,492.7 457.8,490.4 462.0,487.0" stroke-width="0.7"/>
<polyline points="421.2,454.7 423.9,462.4 423.3,464.4 427.3,465.8 431.7,472.8 436.4,474.6 438.6,479.9 445.0,483.8 448.3,491.0 454.8,491.8 458.2,488.7 462.0,487.0" stroke-width="0.7"/>
<polyline points="420.1,454.6 423.9,457.5 423.8,466.3 428.9,468.9 433.7,472.8 436.4,474.1 438.3,482.1 446.0,485.8 448.1,485.4 454.5,490.3 459.2,488.0 462.0,487.0" stroke-width="0.7"/>
<polyline points="422.3,454.1 422.2,460.5 426.5,462.2 430.2,470.5 430.2,471.6 434.8,473.5 441.6,481.7 446.4,485.6 447.6,488.5 455.0,490.3 457.4,490.6 462.0,487.0" stroke-width="0.7"/>
<polyline points="487.3,473.0 493.4,466.2 498.8,477.2 500.8,473.9 509.5,476.7 509.3,477.9 510.8,481.2 521.3,491.2 523.0,491.0" stroke-width="0.7"/>
<polyline points="487.0,464.6 492.1,472.0 492.6,471.1 500.5,478.8 505.2,481.1 506.3,476.4 514.8,483.2 518.2,487.3 523.0,491.0" stroke-width="0.7"/>
<polyline points="489.2,466.0 495.9,471.1 497.8,475.6 503.4,478.0 500.6,478.4 514.2,484.0 515.4,486.7 516.9,486.5 523.0,491.0" stroke-width="0.7"/>
<polyline points="486.4,470.9 493.2,475.5 497.8,478.8 501.9,474.0 509.4,480.9 512.5,483.3 513.2,485.9 515.6,485.2 523.0,491.0" stroke-width="0.7"/>
<polyline points="485.7,466.7 488.8,470.7 497.3,479.2 505.4,476.9 507.3,479.4 510.5,482.7 512.6,485.7 514.7,489.4 523.0,491.0" stroke-width="0.7"/>
<polyline points="487.3,465.2 491.3,472.4 494.8,475.2 502.2,481.0 502.2,479.7 510.8,486.6 514.7,487.4 514.7,486.8 523.0,491.0" stroke-width="0.7"/>
<polyline points="492.3,467.3 497.8,469.1 495.8,469.9 502.4,477.7 510.2,480.4 508.9,479.1 513.8,487.9 520.4,491.4 523.0,491.0" stroke-width="0.7"/>
<polyline points="490.2,467.9 493.8,471.4 493.1,478.4 501.7,474.3 506.0,480.7 512.1,486.5 506.2,486.9 522.4,485.8 523.0,491.0" stroke-width="0.7"/>
<polyline points="483.2,468.7 493.1,471.9 493.6,472.8 501.3,478.9 510.6,480.8 507.9,476.7 516.8,485.2 518.2,485.7 523.0,491.0" stroke-width="0.7"/>
<polyline points="489.9,463.4 492.5,471.3 497.3,477.4 500.5,477.2 507.2,476.0 508.7,482.9 516.5,483.4 520.6,489.2 523.0,491.0" stroke-width="0.7"/>
<polyline points="484.2,464.2 488.6,471.4 497.0,475.9 502.9,475.6 507.8,482.1 510.7,484.0 510.7,486.4 515.8,485.2 523.0,491.0" stroke-width="0.7"/>
<polyline points="487.1,468.4 492.1,470.1 493.9,474.5 498.8,473.4 505.2,483.8 508.5,480.0 517.6,489.9 517.7,487.7 523.0,491.0" stroke-width="0.7"/>
<polyline points="458.5,498.5 464.3,496.7 471.0,493.0 472.6,492.6 480.9,493.9 488.9,491.4 490.7,493.5 495.3,499.7 500.6,499.2 507.8,494.2 511.5,494.2 515.2,494.8 520.0,494.0" stroke-width="0.7"/>
<polyline points="458.0,491.0 467.4,493.9 471.5,500.7 476.4,497.6 483.0,496.1 488.8,488.9 494.3,493.4 491.2,493.3 496.9,496.0 501.7,493.3 510.6,495.3 513.2,494.0 520.0,494.0" stroke-width="0.7"/>
<polyline points="457.8,492.2 464.0,494.0 471.9,493.5 473.9,495.6 479.1,492.5 484.0,492.5 492.7,492.9 494.4,495.4 499.5,491.7 505.6,494.7 508.7,496.4 515.1,493.3 520.0,494.0" stroke-width="0.7"/>
<polyline points="453.2,488.2 464.0,494.2 471.0,497.5 473.9,492.6 477.6,493.4 482.5,493.7 487.1,489.4 494.6,490.8 503.6,493.8 504.9,495.0 508.2,491.1 510.9,496.4 520.0,494.0" stroke-width="0.7"/>
<polyline points="460.2,496.8 460.8,495.7 470.0,498.9 473.9,496.9 482.0,495.0 488.2,491.6 493.4,491.8 498.7,488.6 500.0,494.2 505.0,497.8 511.6,495.2 518.7,491.3 520.0,494.0" stroke-width="0.7"/>
<polyline points="456.2,495.3 464.7,489.9 470.7,494.4 478.3,497.8 478.8,496.5 483.2,494.0 491.3,493.1 491.9,494.1 495.0,494.8 500.9,498.2 507.9,489.6 516.3,495.3 520.0,494.0" stroke-width="0.7"/>
<polyline points="487.5,469.9 488.2,462.7 486.4,454.7 486.9,452.9 486.8,445.7 488.1,440.5 489.0,437.7 491.4,432.7 491.0,428.0" stroke-width="0.7"/>
<polyline points="488.2,468.7 488.8,462.4 485.9,456.6 485.4,451.2 487.2,447.3 488.3,442.1 488.7,437.4 490.8,433.2 491.0,428.0" stroke-width="0.7"/>
<polyline points="489.3,467.7 487.3,464.2 487.2,457.7 486.2,452.9 487.0,446.1 488.1,441.6 489.8,436.7 490.1,432.3 491.0,428.0" stroke-width="0.7"/>
<polyline points="488.3,467.4 488.5,461.4 486.7,456.7 487.1,452.0 487.8,446.7 487.5,441.0 488.7,436.5 490.3,432.8 491.0,428.0" stroke-width="0.7"/>
<polyline points="488.9,467.9 486.8,461.7 487.1,457.7 488.3,452.2 488.9,448.7 487.2,443.1 490.0,438.2 490.0,433.4 491.0,428.0" stroke-width="0.7"/>
<polyline points="487.6,467.9 487.5,464.3 486.8,458.2 486.6,451.4 487.6,447.6 487.5,442.6 488.4,436.2 490.2,432.3 491.0,428.0" stroke-width="0.7"/>
<polyline points="487.1,466.5 487.5,462.9 486.6,457.5 485.1,452.4 487.7,447.3 487.6,442.1 489.1,438.0 490.2,432.7 491.0,428.0" stroke-width="0.7"/>
<path d="M491.0,415.0 C492.5,414.2 494.5,412.3 495.9,412.3 C497.3,412.4 497.0,415.4 495.8,415.2 C494.5,415.1 491.9,413.5 491.6,411.8 C491.3,410.1 492.8,409.7 494.7,409.6 C496.6,409.5 497.7,410.5 497.9,411.5 C498.0,412.4 497.2,411.4 495.3,412.9 C493.4,414.4 492.0,417.1 491.7,416.4 C491.3,415.6 494.3,411.3 494.1,410.3 C493.8,409.3 492.9,410.1 490.7,413.0 C488.6,415.9 487.2,419.1 486.9,419.9 C486.6,420.7 489.3,417.5 489.7,415.6 C490.1,413.6 488.2,412.5 488.2,413.4 C488.1,414.4 488.1,417.2 489.5,418.7 C490.8,420.3 490.8,420.5 492.8,418.6 C494.7,416.7 496.9,413.3 495.8,412.4 C494.8,411.4 491.9,415.2 489.3,415.4 C486.7,415.6 486.8,414.3 487.1,413.1 C487.3,411.8 488.1,413.4 490.2,411.4 C492.2,409.4 493.2,406.8 493.9,406.4 C494.5,405.9 493.7,407.5 492.4,409.8 C491.0,412.1 489.1,413.7 489.4,414.0 C489.6,414.2 492.8,409.3 493.3,410.6 C493.8,411.8 492.6,415.0 491.0,418.2 C489.5,421.4 488.2,421.5 488.1,421.3 C488.1,421.1 490.4,419.4 490.9,417.5 C491.5,415.6 489.0,416.4 490.0,415.0 C491.0,413.7 492.3,413.2 494.1,413.1 C495.9,413.0 497.0,413.5 496.0,414.8 C495.0,416.1 493.8,415.8 490.8,417.5 C487.8,419.2 487.1,417.7 486.0,420.4 C485.0,423.2 486.9,425.8 487.3,426.7 C487.8,427.6 488.3,424.7 487.6,423.4 C486.9,422.0 484.6,423.8 485.1,422.2 C485.5,420.6 486.0,418.2 489.1,418.1 C492.1,418.1 493.6,418.5 495.2,422.0 C496.8,425.4 495.4,425.2 494.5,429.7 C493.6,434.2 493.1,436.0 492.3,436.9 C491.5,437.8 490.3,433.9 491.8,432.8 C493.4,431.7 497.1,435.1 497.6,433.3 C498.0,431.4 494.0,429.5 493.4,426.7 C492.8,423.9 495.4,426.6 495.6,424.0 C495.8,421.3 494.9,421.0 494.0,417.9 C493.2,414.7 492.2,416.2 492.8,413.5 C493.3,410.9 496.8,409.9 495.8,409.1 C494.8,408.3 491.6,409.6 489.5,410.9 C487.4,412.2 487.5,412.7 488.8,413.4 C490.1,414.0 493.8,414.3 493.9,413.1 C494.0,411.9 490.6,408.9 489.3,409.2 C487.9,409.5 488.1,414.5 489.3,414.1 C490.5,413.6 491.1,409.0 493.2,407.7 C495.3,406.5 496.5,407.9 496.3,410.0 C496.0,412.1 494.5,412.6 492.5,414.8 C490.5,417.1 491.3,416.8 489.6,417.6 C487.9,418.4 487.2,416.1 486.9,417.4 C486.6,418.7 488.9,421.7 488.6,421.9 C488.3,422.2 486.7,420.2 485.9,418.4 C485.0,416.6 484.1,417.3 485.8,415.8 C487.5,414.4 488.0,415.7 491.6,413.5 C495.1,411.4 496.1,411.9 497.6,408.6 C499.0,405.2 499.1,404.3 496.4,402.3 C493.7,400.3 491.5,400.9 488.6,401.9 C485.6,402.8 485.0,404.0 486.6,405.5 C488.1,407.0 490.9,408.1 493.7,406.9 C496.5,405.8 496.3,402.0 495.9,401.6 C495.4,401.2 493.9,405.0 492.2,405.6 C490.6,406.3 490.2,402.6 490.5,403.8 C490.8,405.0 492.1,405.6 493.2,409.6 C494.3,413.7 492.5,414.5 494.1,417.4 C495.7,420.3 498.6,419.4 498.5,419.4 C498.4,419.3 495.9,418.5 493.9,417.1 C491.8,415.8 493.4,415.0 491.8,415.0 C490.1,414.9 488.9,414.3 488.3,416.9 C487.8,419.5 488.9,420.1 490.0,423.6 C491.1,427.0 490.3,426.8 492.0,428.4 C493.6,429.9 494.4,427.8 495.5,428.7 C496.6,429.6 496.0,431.6 495.8,431.5 C495.5,431.4 496.9,430.0 494.7,428.3 C492.4,426.6 488.6,427.0 488.3,425.7 C488.0,424.4 491.1,424.0 493.8,424.0 C496.5,423.9 496.2,425.9 497.2,425.5 C498.3,425.0 497.9,424.1 497.2,422.5 C496.4,420.9 496.4,420.3 494.8,420.3 C493.2,420.2 493.5,420.1 491.8,422.2 C490.0,424.4 490.0,424.8 489.0,427.5 C487.9,430.2 487.8,431.6 488.2,431.2 C488.5,430.8 489.3,428.9 490.2,426.2 C491.1,423.5 491.9,424.9 491.2,422.2 C490.5,419.5 487.9,420.7 487.9,417.2 C487.9,413.7 488.4,413.3 491.3,410.6 C494.2,407.8 495.7,408.8 497.5,408.1" stroke-width="0.7"/>
<path d="M524.0,492.0 C523.5,488.7 522.9,482.4 522.3,481.1 C521.7,479.9 521.3,484.9 522.1,487.9 C523.0,490.9 526.6,488.7 525.2,491.2 C523.7,493.6 522.1,494.0 517.2,496.1 C512.3,498.2 510.6,498.8 508.9,498.1 C507.3,497.3 509.9,496.0 511.8,493.6 C513.7,491.1 515.6,492.7 515.3,489.9 C514.9,487.1 510.9,483.2 510.6,484.4 C510.3,485.6 513.0,488.9 514.2,494.1 C515.5,499.2 512.1,497.6 514.8,501.4 C517.4,505.3 521.8,506.6 523.0,506.9 C524.2,507.2 520.7,506.0 518.9,502.6 C517.2,499.2 518.8,498.5 517.1,495.5 C515.4,492.5 515.4,491.8 513.2,492.6 C510.9,493.3 509.4,496.1 509.7,498.0 C509.9,499.9 511.5,496.0 513.9,498.8 C516.3,501.7 517.4,508.0 517.6,507.5 C517.9,507.1 514.6,501.4 514.7,497.3 C514.8,493.2 513.3,495.6 518.0,493.8 C522.6,492.0 524.1,489.8 530.2,491.2 C536.2,492.6 536.9,497.4 538.2,498.4 C539.5,499.4 534.0,498.8 534.6,494.7 C535.1,490.6 541.3,489.0 540.0,484.7 C538.7,480.4 535.3,478.6 530.2,480.4 C525.1,482.1 526.8,484.4 523.0,490.7 C519.3,497.0 517.2,499.3 517.7,501.4 C518.3,503.4 521.8,496.9 524.9,497.5 C528.0,498.1 526.9,504.0 528.0,503.3 C529.1,502.6 526.2,500.6 528.6,495.2 C531.0,489.8 532.3,486.7 536.0,485.2 C539.7,483.7 540.5,487.2 540.9,490.2 C541.4,493.2 540.5,490.5 537.5,495.3 C534.5,500.1 534.4,503.4 530.9,506.2 C527.4,508.9 528.3,506.4 525.9,504.5 C523.4,502.6 526.8,501.7 522.7,499.9 C518.7,498.2 514.5,501.1 512.3,498.5 C510.0,496.0 513.6,496.7 515.2,491.5 C516.9,486.2 515.3,486.4 517.8,481.0 C520.3,475.7 520.6,472.9 523.6,473.8 C526.7,474.7 525.6,479.1 528.0,484.1 C530.4,489.1 531.8,486.8 531.6,490.4 C531.5,494.0 529.1,492.7 527.5,496.2 C525.9,499.7 527.9,503.7 526.3,502.1 C524.7,500.4 525.2,494.0 522.1,490.8 C519.0,487.6 516.9,494.9 516.0,491.4 C515.0,487.9 515.7,480.6 518.8,479.0 C522.0,477.5 524.5,482.0 526.4,486.2 C528.3,490.4 528.7,490.0 525.1,493.0 C521.5,496.0 517.5,491.7 514.3,496.1 C511.1,500.4 510.9,503.9 514.4,507.5 C517.9,511.1 523.1,510.8 526.1,508.1 C529.1,505.4 522.7,500.0 524.4,498.5 C526.1,497.1 532.0,502.1 531.8,503.2 C531.7,504.4 525.1,501.3 523.9,502.4 C522.6,503.5 526.4,507.0 527.6,506.9 C528.9,506.8 527.5,504.8 528.1,502.0 C528.7,499.3 529.8,500.2 529.6,497.7 C529.5,495.2 529.4,496.9 527.5,493.6 C525.7,490.3 526.9,489.3 523.5,486.6 C520.1,484.0 519.1,487.2 516.2,484.8 C513.3,482.3 514.4,477.5 513.8,478.5 C513.2,479.5 510.5,485.8 514.2,488.0 C517.8,490.3 521.4,485.3 525.9,485.8 C530.3,486.4 525.3,489.1 528.9,489.8 C532.5,490.4 535.8,490.9 537.9,487.9 C540.0,485.0 538.6,481.8 535.9,479.9 C533.2,478.1 533.6,480.1 529.0,481.8 C524.4,483.4 521.8,482.5 520.6,485.5 C519.3,488.6 523.9,488.6 524.9,492.0 C525.9,495.4 521.3,496.7 524.0,496.7 C526.7,496.8 529.4,495.0 533.9,492.1 C538.4,489.3 540.4,490.4 539.1,487.2 C537.7,484.0 531.9,485.4 529.5,481.6 C527.2,477.8 531.1,473.6 531.3,474.5 C531.4,475.4 533.2,480.3 530.0,484.6 C526.7,489.0 525.8,488.1 520.5,489.0 C515.1,489.9 514.7,491.0 512.2,487.7 C509.6,484.3 508.3,479.7 511.9,477.8 C515.6,475.9 522.9,478.9 524.3,481.3 C525.6,483.6 522.2,483.3 516.5,485.7 C510.7,488.0 505.8,487.5 505.0,489.2 C504.1,490.9 508.2,488.4 513.6,491.2 C519.0,494.0 521.0,494.9 523.1,498.5 C525.2,502.0 522.0,504.5 520.6,503.1 C519.2,501.7 520.4,498.0 518.4,493.8 C516.4,489.7 517.4,489.5 513.8,489.3 C510.3,489.1 507.4,492.4 506.6,493.1 C505.9,493.8 511.0,493.4 511.2,491.6 C511.4,489.7 508.2,490.0 507.3,486.9 C506.3,483.9 505.5,485.1 508.0,481.4 C510.6,477.8 512.8,473.4 515.9,474.7 C519.1,476.0 518.9,481.7 518.5,485.8 C518.1,489.9 516.4,486.4 514.5,488.4 C512.6,490.4 514.3,490.4 512.2,492.4 C510.1,494.3 507.5,492.2 507.6,494.9 C507.7,497.6 511.5,501.4 512.5,501.2 C513.6,501.1 510.7,493.4 511.1,494.4 C511.5,495.5 511.6,502.6 513.8,504.8 C516.0,507.1 515.8,504.1 518.4,501.9 C521.0,499.7 519.8,499.1 522.5,497.6 C525.1,496.1 523.3,496.6 527.2,497.0 C531.0,497.3 533.6,499.8 535.4,498.9 C537.1,497.9 536.0,498.2 533.0,493.8 C530.0,489.4 530.3,487.4 525.3,484.2 C520.2,481.0 520.4,483.9 516.1,483.2 C511.9,482.5 510.4,480.1 511.0,481.8 C511.7,483.6 513.9,486.8 518.2,489.1 C522.5,491.3 521.6,486.6 525.3,489.2 C529.0,491.9 531.0,498.1 530.5,497.9 C530.0,497.6 524.7,493.2 523.7,488.5 C522.6,483.8 528.6,485.5 527.1,482.2 C525.6,479.0 522.8,477.2 518.7,477.6 C514.7,478.0 514.0,478.3 513.6,483.6 C513.3,488.9 514.8,492.4 517.4,495.3 C520.0,498.2 522.1,496.9 522.3,493.2 C522.4,489.6 516.6,486.8 518.0,483.1 C519.4,479.5 527.9,480.9 527.0,481.1 C526.1,481.4 515.4,481.6 515.0,484.1 C514.6,486.5 520.0,488.2 525.6,489.4 C531.3,490.7 530.4,486.7 533.9,488.3 C537.4,489.8 537.3,490.3 537.3,494.6 C537.3,498.9 538.0,502.2 533.9,502.6 C529.8,503.0 526.7,500.7 523.7,495.9 C520.8,491.1 523.5,491.5 524.1,486.6 C524.8,481.7 526.8,483.4 526.0,479.5 C525.1,475.7 524.6,473.5 521.4,473.7 C518.3,473.8 518.1,476.4 515.4,480.0 C512.7,483.6 514.4,484.5 512.4,485.7 C510.3,486.8 508.0,481.5 508.6,483.7 C509.3,486.0 513.7,487.4 514.4,493.2 C515.2,499.0 510.1,502.5 511.1,503.1 C512.1,503.7 518.0,497.4 517.8,495.2 C517.6,493.1 511.5,498.7 510.4,495.9 C509.4,493.2 510.3,488.6 514.2,486.0 C518.1,483.4 519.4,486.3 523.4,487.3 C527.3,488.3 524.8,488.1 527.4,489.3 C530.0,490.5 532.5,488.6 532.0,491.4 C531.5,494.2 528.9,495.6 525.8,498.6 C522.6,501.6 525.6,500.0 521.6,501.4 C517.6,502.8 512.2,502.6 512.5,503.2 C512.7,503.9 517.2,503.7 522.4,503.5 C527.5,503.2 528.8,506.3 529.7,502.4 C530.7,498.5 525.1,496.8 525.6,490.5 C526.0,484.3 530.8,481.7 531.3,481.7 C531.7,481.8 530.1,486.5 527.1,490.8 C524.0,495.1 520.7,491.8 521.2,496.2 C521.6,500.5 525.7,504.7 528.6,505.3 C531.6,505.9 528.5,501.7 531.0,498.2 C533.4,494.7 537.3,492.5 536.8,493.6 C536.2,494.7 532.1,501.5 529.3,501.7 C526.5,502.0 528.5,499.5 527.4,494.3 C526.3,489.2 528.3,486.7 525.6,484.6 C522.9,482.5 522.0,483.0 518.5,487.3 C515.0,491.5 515.5,498.2 513.8,498.8 C512.1,499.5 514.7,493.6 512.8,489.5 C511.0,485.3 506.4,488.6 507.7,485.1 C508.9,481.5 512.4,477.4 517.0,477.6 C521.6,477.7 522.8,484.5 523.1,485.6 C523.5,486.6 522.2,481.2 518.1,480.9 C514.1,480.7 512.8,480.1 509.6,484.8 C506.3,489.5 506.6,492.8 507.3,496.7 C508.0,500.6 511.9,499.7 511.9,497.7 C511.8,495.7 507.6,493.5 507.1,490.1 C506.5,486.6 507.8,488.8 510.1,486.3 C512.3,483.8 512.9,484.6 514.5,481.7 C516.2,478.8 517.8,476.4 515.6,476.8 C513.4,477.2 507.2,481.2 507.2,483.0 C507.2,484.8 511.2,484.1 515.6,482.9 C519.9,481.7 516.3,479.4 521.7,479.0 C527.1,478.6 530.0,480.8 533.5,481.5" stroke-width="0.7"/>
<polyline points="510.5,494.8 510.1,501.0 519.8,491.6 523.0,487.1 522.1,488.9 531.1,490.4 522.8,487.3 518.9,485.8 523.1,503.9 530.2,492.7 533.8,498.1 524.3,489.8 515.9,492.7 520.9,479.9 514.6,504.6 524.4,494.5 524.3,487.7 526.0,498.6 521.0,494.6 529.7,487.6 524.1,485.8 526.9,488.4 530.5,485.7 534.0,488.8 517.5,484.7 527.3,485.0 534.7,500.0 526.4,481.0 522.8,485.9 511.2,494.0 537.3,487.2 528.3,500.0 516.8,488.6 524.7,494.3 515.6,492.5 522.3,497.7 512.6,487.1 519.7,488.8 527.7,486.6 540.8,486.1 528.5,498.1 529.3,489.6 517.6,489.2 527.3,491.8 526.8,495.0 517.3,484.5 532.4,487.6 512.7,504.0 517.6,484.5 529.3,483.1 517.3,498.3 517.7,508.6 523.6,509.8 523.8,491.4 518.8,489.4 519.7,490.8 528.0,482.1 517.0,476.3 532.8,490.5 522.9,490.6 529.5,493.2 528.5,489.8 522.2,490.6 510.9,498.6 512.7,484.0 527.4,491.4 528.3,502.9 535.1,500.7 521.5,505.3 517.3,490.4 529.5,489.5 522.2,488.5 531.9,473.7 531.3,498.4 522.5,494.9 516.7,498.8 542.9,484.6 532.1,490.6 520.8,487.6 521.8,482.2 514.2,502.6 522.9,494.9 525.0,494.3 513.1,484.4 527.1,498.0 515.6,487.0 516.1,495.6 525.2,491.2 518.8,493.4 523.2,485.8 525.2,486.3 529.2,495.4 518.5,495.1 523.4,486.1 517.1,479.4 515.7,493.4 530.8,486.6 524.0,493.4 528.1,494.1 531.0,496.4 518.0,493.8 507.8,489.7 523.1,495.1 521.0,496.8 531.6,485.1 519.5,492.8 526.2,492.0 528.4,482.7 528.0,499.2 530.2,494.0 521.5,493.8 522.5,479.9 519.1,490.7 519.6,484.5 521.5,488.4 523.4,490.7 524.1,498.0 523.9,493.8 515.1,470.4 520.4,495.7 520.8,486.6 514.9,497.2 519.6,492.7 530.4,494.8 537.6,490.1 529.2,495.9 518.7,491.3 519.3,483.8 524.9,485.6 533.9,485.8" stroke-width="0.7"/>
<polyline points="518.6,489.1 518.8,488.6 517.9,470.9 499.9,472.5 539.2,493.3 525.5,482.4 522.5,491.6 510.1,478.4 515.1,503.1 513.4,502.1 519.3,520.7 523.2,488.4 537.5,498.5 533.4,475.2 535.4,508.2 523.0,482.2 513.1,500.2 526.9,488.1 511.6,507.5 532.8,487.8 538.8,476.6 532.8,476.0 538.1,484.7 536.2,483.0 528.0,501.7 515.0,489.2" stroke-width="0.7"/>
<polyline points="522.2,497.9 524.3,501.5 526.9,511.2 526.7,514.9 529.5,518.8 529.7,524.6 533.0,526.6 534.3,532.4 535.0,545.0 532.6,544.9 533.9,552.2 533.2,551.1 530.5,560.4 532.6,569.3 530.0,574.0" stroke-width="0.7"/>
<polyline points="522.8,497.5 523.3,505.2 527.2,507.2 529.4,518.8 528.3,517.3 529.2,522.5 532.5,530.8 533.4,535.4 537.6,539.4 532.0,540.0 535.0,548.5 533.7,555.9 535.0,556.6 529.9,567.2 530.0,574.0" stroke-width="0.7"/>
<polyline points="523.7,498.5 524.6,497.8 529.9,505.1 526.9,515.9 527.9,525.5 531.9,526.2 531.6,534.9 535.0,533.4 537.8,536.3 533.5,545.6 534.8,547.9 537.7,558.2 531.9,560.8 530.6,566.0 530.0,574.0" stroke-width="0.7"/>
<polyline points="526.2,496.3 525.4,502.6 524.8,511.4 527.3,517.9 529.2,519.0 534.7,525.4 531.2,528.8 535.1,539.1 536.4,539.1 532.3,543.5 534.2,550.5 532.8,557.8 531.9,558.4 533.1,568.1 530.0,574.0" stroke-width="0.7"/>
<polyline points="523.1,498.1 522.6,505.9 532.1,513.0 529.3,519.3 530.3,522.9 531.0,525.4 533.8,526.2 533.3,538.8 528.6,540.8 536.8,545.7 534.9,553.1 535.0,550.8 531.9,559.3 532.3,566.0 530.0,574.0" stroke-width="0.7"/>
<polyline points="523.8,499.7 519.2,504.9 529.4,510.0 529.0,515.1 531.0,520.5 529.8,526.7 530.8,529.9 533.0,532.5 536.3,539.8 532.2,544.8 531.5,553.2 535.4,559.4 532.8,561.6 529.9,565.1 530.0,574.0" stroke-width="0.7"/>
<polyline points="523.8,496.9 527.7,501.7 529.8,510.8 527.1,514.6 528.2,523.7 530.2,526.9 534.6,529.4 532.7,535.8 533.3,537.2 532.6,545.7 534.9,553.9 530.2,556.1 531.5,562.5 533.5,567.3 530.0,574.0" stroke-width="0.7"/>
<polyline points="527.2,495.2 524.5,500.0 525.9,508.9 530.5,517.8 529.6,518.4 530.7,524.1 531.6,529.1 531.9,534.9 533.9,539.6 531.7,545.3 535.8,551.4 533.1,552.5 531.2,557.4 530.6,566.3 530.0,574.0" stroke-width="0.7"/>
<polyline points="528.6,556.0 529.2,539.8 531.2,557.9 537.6,543.8 532.3,543.3 532.5,546.0 539.1,535.1 532.7,538.6 533.9,541.8 534.4,535.2 538.2,550.5 528.6,556.3 531.8,534.3 534.1,541.9 534.8,541.5 535.2,549.8 533.9,549.9 532.1,543.7 534.1,556.4 532.0,574.5 537.2,534.4 535.7,547.2 533.6,538.7 537.1,538.2 532.8,539.4 537.8,562.9 529.7,542.7 533.9,542.9 532.1,535.3 533.6,535.1 535.1,576.4 532.2,567.5 533.9,540.1 532.1,536.7 533.3,556.3 535.3,544.7 530.1,547.1 537.1,551.3 532.8,523.5 531.9,554.4" stroke-width="0.7"/>
<polyline points="504.5,525.0 507.5,518.4 507.4,520.7 519.9,519.3 497.9,520.8 516.1,525.5 503.2,525.4 517.3,522.3 506.0,518.4 504.5,523.8 513.7,524.2 526.3,521.1 511.6,526.7 501.7,519.7 509.1,519.9 513.1,518.5" stroke-width="0.7"/>
</g>
<path d="M396.5,352.5 L404.3,352.5 C404.5,372 406,392 408,410 C409.3,430 409.5,460 409.3,500 L407,581 L399.5,581 L401.7,500 C401.8,460 401.8,430 401,412 C399.5,395 397.5,375 396.5,352.5 Z" fill="#221f1f"/>
<rect x="404" y="370" width="5.2" height="3.4" fill="#221f1f"/>
<rect x="383.3" y="360.3" width="9.2" height="4.7" fill="#221f1f"/>
<rect x="389.2" y="369.2" width="5.8" height="5.0" fill="#221f1f"/>
<rect x="388" y="382.5" width="2.8" height="2.8" fill="#221f1f"/>
<rect x="373.3" y="404.2" width="2.5" height="5.0" fill="#221f1f"/>
<rect x="385.8" y="416.7" width="2.9" height="1.6" fill="#221f1f"/>
<rect x="364.2" y="425.3" width="3.3" height="3.4" fill="#221f1f"/>
<rect x="375.8" y="425.3" width="3.4" height="3.9" fill="#221f1f"/>
<rect x="381.7" y="425.3" width="4.1" height="3.9" fill="#221f1f"/>
<rect x="368.3" y="433.3" width="2.0" height="4.2" fill="#221f1f"/>
<rect x="395" y="490" width="4.2" height="5.0" fill="#221f1f"/>
<rect x="397" y="507.8" width="2.2" height="3.0" fill="#221f1f"/>
<rect x="367" y="511.5" width="3.8" height="5.3" fill="#221f1f"/>
<rect x="390.3" y="528.2" width="4.2" height="5.3" fill="#221f1f"/>
<rect x="397" y="533.5" width="3.0" height="5.0" fill="#221f1f"/>
<rect x="415.3" y="559.3" width="14.4" height="22.5" fill="#221f1f"/>
<rect x="465.8" y="542.3" width="5.0" height="10.4" fill="#221f1f"/>
<polygon points="393.3,450.8 399.2,455.0 390.0,470.8 384.2,466.7" fill="#221f1f"/>
<polygon points="378.3,565.2 385.8,571.8 376.7,579.3 371.2,573.5" fill="#221f1f"/>
<polygon points="507.5,373.3 519.2,368.0 527.2,382.5 515.8,389.2" fill="#221f1f"/>
<polygon points="516.7,393.7 523.3,397.5 515.0,413.3 508.3,409.7" fill="#221f1f"/>
<g stroke="#221f1f" stroke-width="1.1" fill="none">
<path d="M387.5,389.7 L374.2,413.3 L381.7,420 L380.8,407.5 Q384,413 388.3,415.8 Q395,418.5 401.7,415.8"/>
<path d="M408.3,412.5 L440,393 Q463,380 468.3,351.7"/>
<path d="M495,350.8 Q506,375 510.8,391.7"/>
<path d="M305.8,562.7 L315.8,575.2 L320,569.3 Q325,559 335,552.7"/>
<path d="M339.2,540.2 L343.7,546.8"/>
<path d="M342.5,561.5 L350,559.3 L357.5,573"/>
<path d="M318.3,573.5 L324.2,581.3"/>
<path d="M329.2,571.8 L335,579.3"/>
<path d="M338.3,571 L345.8,580.2"/>
<path d="M381.7,565.2 Q386,562.5 390.8,566 L400,573.5"/>
<path d="M384.2,573.5 L387.5,579.3"/>
<path d="M429.7,576 Q433.5,576 435.8,582.7 L440,566 Q446,548 455,531"/>
</g>
<path d="M665.2,354 V439.2 H783.7" fill="none" stroke="#222" stroke-width="1.1"/>
<line x1="673.3" y1="422.5" x2="784.7" y2="362.5" stroke="#222" stroke-width="1"/>
<circle cx="784.7" cy="362.5" r="2.1" fill="#1c1c1c"/>
<circle cx="742.5" cy="380" r="2.1" fill="#1c1c1c"/>
<circle cx="742.5" cy="391.7" r="2.1" fill="#1c1c1c"/>
<circle cx="696.2" cy="390.5" r="2.1" fill="#1c1c1c"/>
<circle cx="678.3" cy="425.5" r="2.1" fill="#1c1c1c"/>
<circle cx="672.5" cy="426.7" r="2.1" fill="#1c1c1c"/>
<text x="656.2" y="437.2" font-size="13.3" textLength="64.7" lengthAdjust="spacingAndGlyphs" fill="#383838" transform="rotate(-90 656.2 437.2)">Energy cost</text>
<text x="682.5" y="452.5" font-size="13.3" textLength="57.5" lengthAdjust="spacingAndGlyphs" fill="#383838">Prey mass</text>
<polygon points="648.3,459.2 664.2,476.7 678.3,460.8 685,475 710.8,463.3 701.7,489.2 717.5,490 703.3,503.3 707,526.7 695,527.5 700,548.3 681.7,537.5 677.5,547.5 663.3,535.8 654.2,547.5 648.3,538.3 640.8,547.5 633.3,537.5 615,546.7 618.3,531.7 603.3,521.7 616.7,511.7 604.2,495.8 627.5,495.8 620.8,473.3 639.2,480" fill="#fffce8" stroke="#f5e68c" stroke-width="1.4" stroke-linejoin="miter"/>
<g fill="none" stroke="#4a4a4a" stroke-width="1">
<path d="M785.3,493.3 H720.3 V484.2 L700.8,505 L720.3,525.8 V514.2 H804.2 V510.5"/>
<path d="M785.8,511.7 L785,481.7 L790.8,487.5 L852.5,416.7 L868.3,430 L809.2,502.5 L815.8,509.2 Z"/>
</g>
<polyline points="627.5,505.8 635,509.2 643.3,506.7 650,506.7 656.7,509.2 666.7,507.5 669.2,505.8 671.7,508.3 680,507.5 686.7,505.8 693.3,501.7 700,503 708.3,501.7 720,500 750,500.8 783.3,500.8 791.7,504.2 800,504.2 805,495 810,483.3 815.8,476.7 825,465 828.3,455 840,450 848.3,433.3 853.3,426.7" fill="none" stroke="#71886f" stroke-width="1.15" stroke-linejoin="round"/>
<polyline points="627.5,501.7 629.2,493.3 635,509.2 645,492.5 655,507.5 657.5,505 660.8,506.7 669.2,485.8 680,509.2 686.7,505 692.5,498.3 695.8,497.5 698,490 701.7,499.2 706.7,500 720,498.7 750,499.7 785,500 800,501.7 806.7,486.7 808.3,481.7 811.7,473.3 823.3,465.8 826.7,455 838.3,448.3 846.7,431.7 853.3,425" fill="none" stroke="#5c8a50" stroke-width="1.15" stroke-linejoin="round"/>
<polyline points="627.5,505.8 630.8,508.3 637.5,530 643.3,521.7 650,506.7 659.2,500.8 662.5,508.3 666.7,527.5 670.8,532.5 675.8,515 680,503.3 685,500.3 690.8,508.3 691.7,524.2 696.7,526.7 701.7,516.7 706.7,506.7 711.7,505 720,508.3 740,507.5 746.7,510 766.7,509.2 786.7,507.5 806.7,505 808.5,486 810,485.8 822.5,481.7 826.7,476.7 830.8,460 840,452.5 846.7,438.3 850.8,431.7 856.7,433.3 861.7,431.7" fill="none" stroke="#e8364a" stroke-width="1.15" stroke-linejoin="round"/>
<text x="737.5" y="527.2" font-size="13.3" textLength="54.5" lengthAdjust="spacingAndGlyphs" fill="#383838">Slow walk</text>
<text x="721.3" y="543" font-size="13.3" textLength="87" lengthAdjust="spacingAndGlyphs" fill="#383838">Energy cost = 9</text>
<text x="613.3" y="561.5" font-size="13.3" textLength="87.5" lengthAdjust="spacingAndGlyphs" fill="#383838">Pounce on deer</text>
<text x="610" y="577.5" font-size="13.3" textLength="94.5" lengthAdjust="spacingAndGlyphs" fill="#383838">Energy cost = 65</text>
<text x="850.8" y="462" font-size="13.3" textLength="22.5" lengthAdjust="spacingAndGlyphs" fill="#383838">Fast</text>
<text x="846.5" y="477.5" font-size="13.3" textLength="31" lengthAdjust="spacingAndGlyphs" fill="#383838">travel</text>
<text x="842.5" y="492.7" font-size="13.3" textLength="38.8" lengthAdjust="spacingAndGlyphs" fill="#383838">Energy</text>
<text x="834.3" y="507.8" font-size="13.3" textLength="52.4" lengthAdjust="spacingAndGlyphs" fill="#383838">cost = 20</text>
</svg>
</body></html>
